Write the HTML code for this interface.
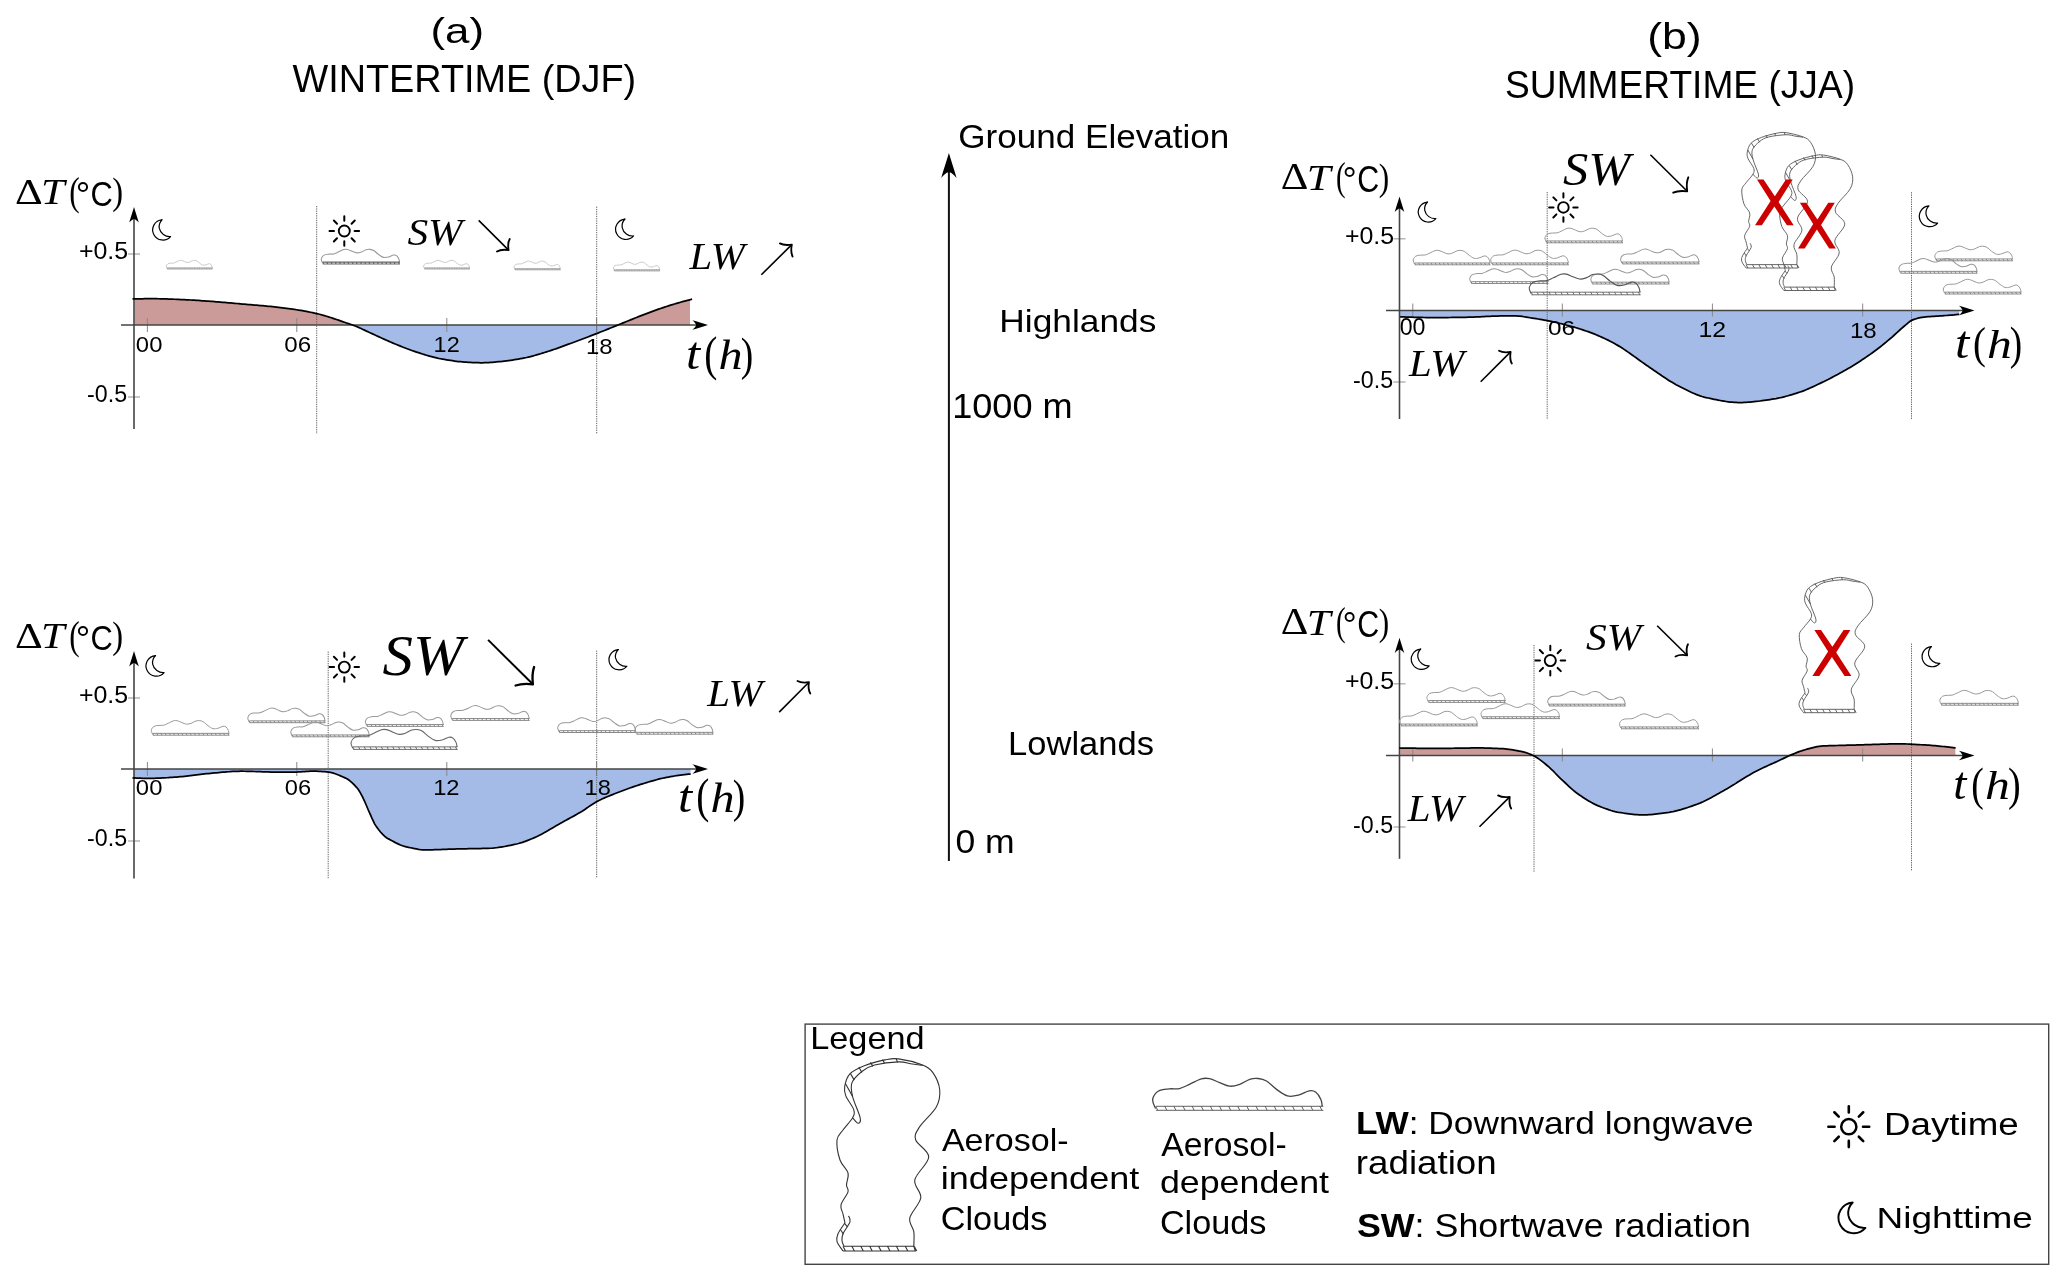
<!DOCTYPE html>
<html><head><meta charset="utf-8"><style>
html,body{margin:0;padding:0;background:#fff;width:2067px;height:1283px;overflow:hidden;}
svg{display:block;will-change:transform;}
</style></head><body>
<svg width="2067" height="1283" viewBox="0 0 2067 1283">
<defs>
<path id="fcO" d="M-0.30,-1.00 C-0.58,-1.92 -2.30,-4.75 -2.00,-6.50 C-1.70,-8.25 -0.17,-10.45 1.50,-11.50 C3.17,-12.55 5.92,-12.55 8.00,-12.80 C10.08,-13.05 12.00,-12.55 14.00,-13.00 C16.00,-13.45 17.83,-14.53 20.00,-15.50 C22.17,-16.47 25.00,-18.23 27.00,-18.80 C29.00,-19.37 30.17,-19.28 32.00,-18.90 C33.83,-18.52 36.00,-17.25 38.00,-16.50 C40.00,-15.75 42.00,-14.57 44.00,-14.40 C46.00,-14.23 48.00,-14.82 50.00,-15.50 C52.00,-16.18 54.17,-17.92 56.00,-18.50 C57.83,-19.08 59.33,-19.17 61.00,-19.00 C62.67,-18.83 64.17,-18.58 66.00,-17.50 C67.83,-16.42 69.92,-13.98 72.00,-12.50 C74.08,-11.02 76.33,-9.18 78.50,-8.60 C80.67,-8.02 82.83,-8.50 85.00,-9.00 C87.17,-9.50 89.75,-11.30 91.50,-11.60 C93.25,-11.90 94.33,-11.65 95.50,-10.80 C96.67,-9.95 97.87,-7.90 98.50,-6.50 C99.13,-5.10 99.17,-3.08 99.30,-2.40" fill="none"/>
<path id="fcB" d="M0,-2.4 H100 M0,0 H100 M1.00,0 L-0.20,-2.4 M6.45,0 L5.25,-2.4 M11.90,0 L10.70,-2.4 M17.35,0 L16.15,-2.4 M22.80,0 L21.60,-2.4 M28.25,0 L27.05,-2.4 M33.70,0 L32.50,-2.4 M39.15,0 L37.95,-2.4 M44.60,0 L43.40,-2.4 M50.05,0 L48.85,-2.4 M55.50,0 L54.30,-2.4 M60.95,0 L59.75,-2.4 M66.40,0 L65.20,-2.4 M71.85,0 L70.65,-2.4 M77.30,0 L76.10,-2.4 M82.75,0 L81.55,-2.4 M88.20,0 L87.00,-2.4 M93.65,0 L92.45,-2.4 M99.10,0 L97.90,-2.4 " fill="none"/>
<g id="tc"><path d="M8.00,164.80 C7.67,163.33 6.67,159.00 6.00,156.00 C5.33,153.00 3.17,150.50 4.00,146.80 C4.83,143.10 10.08,137.12 11.00,133.80 C11.92,130.48 9.50,130.05 9.50,126.90 C9.50,123.75 12.08,119.05 11.00,114.90 C9.92,110.75 4.83,107.48 3.00,102.00 C1.17,96.52 -0.50,87.00 0.00,82.00 C0.50,77.00 3.40,75.70 6.00,72.00 C8.60,68.30 13.82,63.20 15.60,59.80 C17.38,56.40 17.83,55.25 16.70,51.60 C15.57,47.95 10.30,41.78 8.80,37.90 C7.30,34.02 7.02,31.97 7.70,28.30 C8.38,24.63 9.63,19.33 12.90,15.90 C16.17,12.47 21.47,10.03 27.30,7.70 C33.13,5.37 42.18,3.03 47.90,1.90 C53.62,0.77 55.32,0.05 61.60,0.90 C67.88,1.75 79.88,4.72 85.60,7.00 C91.32,9.28 93.05,10.48 95.90,14.60 C98.75,18.72 102.13,25.98 102.70,31.70 C103.27,37.42 102.72,42.62 99.30,48.90 C95.88,55.18 85.63,63.88 82.20,69.40 C78.77,74.92 77.12,77.08 78.70,82.00 C80.28,86.92 91.85,92.25 91.70,98.90 C91.55,105.55 79.12,115.08 77.80,121.90 C76.48,128.72 84.63,133.48 83.80,139.80 C82.97,146.12 73.97,154.15 72.80,159.80 C71.63,165.45 76.13,168.97 76.80,173.70 C77.47,178.43 76.80,185.78 76.80,188.20" fill="none"/><path d="M15.60,59.80 C16.52,60.72 19.83,65.30 21.10,65.30 C22.37,65.30 24.12,64.25 23.20,59.80 C22.28,55.35 16.98,44.42 15.60,38.60 C14.22,32.78 13.30,29.13 14.90,24.90 C16.50,20.67 21.42,16.18 25.20,13.20 C28.98,10.22 31.53,8.55 37.60,7.00 C43.67,5.45 55.32,4.07 61.60,3.90 C67.88,3.73 71.30,5.42 75.30,6.00 C79.30,6.58 83.88,7.17 85.60,7.40" fill="none"/><path d="M8.00,164.80 C6.83,166.62 2.33,172.55 1.00,175.70 C-0.33,178.85 -0.83,180.82 0.00,183.70 C0.83,186.58 5.00,191.45 6.00,193.00" fill="none"/><path d="M11.50,157.80 C11.75,158.80 13.92,160.82 13.00,163.80 C12.08,166.78 7.33,172.55 6.00,175.70 C4.67,178.85 4.83,180.62 5.00,182.70 C5.17,184.78 6.67,187.28 7.00,188.20" fill="none"/><path d="M13.6,15.9 L17.3,22.1 M21.8,9.1 L24.9,14.6 M33.5,4.3 L35.9,8.4 M45.5,1.5 L47.5,5.3 M59.2,0.9 L60.6,4.3 M8.4,25.5 L15.6,38.6 M3.5,171.7 L6.5,176.2 M7.5,165.3 L10.5,168.8 M7,188.2 H76.8 M6,193 H78.3 L76.8,188.2 M6.0,188.2 L8.5,193 M14.9,188.2 L17.4,193 M23.8,188.2 L26.3,193 M32.7,188.2 L35.2,193 M41.6,188.2 L44.1,193 M50.5,188.2 L53.0,193 M59.4,188.2 L61.9,193 M68.3,188.2 L70.8,193 M77.2,188.2 L79.7,193 " fill="none"/></g>
<path id="sunR" d="M14.20,0.00 L20.40,0.00 M10.04,10.04 L14.42,14.42 M0.00,14.20 L0.00,20.40 M-10.04,10.04 L-14.42,14.42 M-14.20,0.00 L-20.40,0.00 M-10.04,-10.04 L-14.42,-14.42 M-0.00,-14.20 L-0.00,-20.40 M10.04,-10.04 L14.42,-14.42 " fill="none" stroke-linecap="round"/>
<path id="moon" d="M15.6,0.3 A15.3,15.3 0 1 0 28.3,25.6 C20.5,26.3 13,21 11.3,13 C10.5,8 12.5,3.5 15.6,0.3 Z" fill="none" stroke-linejoin="round"/>
<path id="ah" d="M0,0 C-5,-1.5 -11,-3.5 -15.6,-4.8 C-13,-2.5 -12,-1 -11.9,0 C-12,1 -13,2.5 -15.6,4.8 C-11,3.5 -5,1.5 0,0 Z" fill="#000"/>
<path id="redx" d="M2,0 L8.6,0 L20,16.9 L31.2,0 L38,0 L23.8,22.5 L39,46.1 L32.2,46.1 L19.5,27.1 L6.9,46.1 L0,46.1 L15.7,21.5 Z" fill="#cc0000"/>
<clipPath id="clip1"><rect x="134.5" y="0" width="219.5" height="1283"/></clipPath>
<clipPath id="clip2"><rect x="354.0" y="0" width="264.0" height="1283"/></clipPath>
<clipPath id="clip3"><rect x="618.0" y="0" width="72.1" height="1283"/></clipPath>
<clipPath id="clip4"><rect x="134.0" y="0" width="558.0" height="1283"/></clipPath>
<clipPath id="clip5"><rect x="1400.0" y="0" width="562.0" height="1283"/></clipPath>
<clipPath id="clip6"><rect x="1400.3" y="0" width="132.9" height="1283"/></clipPath>
<clipPath id="clip7"><rect x="1533.2" y="0" width="256.5" height="1283"/></clipPath>
<clipPath id="clip8"><rect x="1789.7" y="0" width="165.9" height="1283"/></clipPath>
</defs>
<rect width="2067" height="1283" fill="#fff"/>
<path d="M948.9,861 V172" stroke="#111" stroke-width="2"/>
<use href="#ah" transform="translate(948.9,153) rotate(-90) scale(1.6)"/>
<path d="M132.50,298.96 L134.50,298.91 L136.50,298.87 L138.50,298.83 L140.50,298.79 L142.50,298.76 L144.50,298.74 L146.50,298.72 L148.50,298.70 L150.50,298.70 L152.50,298.70 L154.50,298.71 L156.50,298.72 L158.50,298.75 L160.50,298.79 L162.50,298.84 L164.50,298.89 L166.50,298.95 L168.50,299.02 L170.50,299.09 L172.50,299.17 L174.50,299.25 L176.50,299.34 L178.50,299.43 L180.50,299.51 L182.50,299.60 L184.50,299.69 L186.50,299.79 L188.50,299.89 L190.50,300.00 L192.50,300.12 L194.50,300.24 L196.50,300.36 L198.50,300.49 L200.50,300.62 L202.50,300.76 L204.50,300.90 L206.50,301.04 L208.50,301.18 L210.50,301.33 L212.50,301.47 L214.50,301.63 L216.50,301.78 L218.50,301.95 L220.50,302.11 L222.50,302.28 L224.50,302.45 L226.50,302.62 L228.50,302.80 L230.50,302.97 L232.50,303.15 L234.50,303.33 L236.50,303.50 L238.50,303.68 L240.50,303.86 L242.50,304.03 L244.50,304.20 L246.50,304.37 L248.50,304.54 L250.50,304.71 L252.50,304.88 L254.50,305.05 L256.50,305.22 L258.50,305.39 L260.50,305.57 L262.50,305.74 L264.50,305.92 L266.50,306.11 L268.50,306.29 L270.50,306.48 L272.50,306.68 L274.50,306.88 L276.50,307.09 L278.50,307.31 L280.50,307.55 L282.50,307.80 L284.50,308.06 L286.50,308.32 L288.50,308.60 L290.50,308.88 L292.50,309.16 L294.50,309.45 L296.50,309.75 L298.50,310.06 L300.50,310.38 L302.50,310.72 L304.50,311.08 L306.50,311.45 L308.50,311.84 L310.50,312.24 L312.50,312.65 L314.50,313.08 L316.50,313.53 L318.50,314.00 L320.50,314.52 L322.50,315.07 L324.50,315.66 L326.50,316.27 L328.50,316.89 L330.50,317.52 L332.50,318.16 L334.50,318.81 L336.50,319.49 L338.50,320.18 L340.50,320.89 L342.50,321.59 L344.50,322.29 L346.50,322.96 L348.50,323.61 L350.50,324.26 L352.50,324.95 L354.50,325.71 L356.50,326.52 L358.50,327.39 L360.50,328.29 L362.50,329.21 L364.50,330.15 L366.50,331.09 L368.50,332.03 L370.50,332.95 L372.50,333.85 L374.50,334.76 L376.50,335.68 L378.50,336.60 L380.50,337.52 L382.50,338.44 L384.50,339.35 L386.50,340.25 L388.50,341.14 L390.50,342.02 L392.50,342.87 L394.50,343.70 L396.50,344.53 L398.50,345.34 L400.50,346.15 L402.50,346.95 L404.50,347.74 L406.50,348.51 L408.50,349.26 L410.50,350.00 L412.50,350.71 L414.50,351.40 L416.50,352.06 L418.50,352.70 L420.50,353.34 L422.50,353.98 L424.50,354.60 L426.50,355.22 L428.50,355.81 L430.50,356.39 L432.50,356.93 L434.50,357.44 L436.50,357.92 L438.50,358.36 L440.50,358.74 L442.50,359.10 L444.50,359.45 L446.50,359.80 L448.50,360.13 L450.50,360.45 L452.50,360.74 L454.50,361.02 L456.50,361.28 L458.50,361.51 L460.50,361.71 L462.50,361.88 L464.50,362.02 L466.50,362.15 L468.50,362.28 L470.50,362.40 L472.50,362.51 L474.50,362.60 L476.50,362.68 L478.50,362.73 L480.50,362.76 L482.50,362.76 L484.50,362.72 L486.50,362.65 L488.50,362.55 L490.50,362.41 L492.50,362.26 L494.50,362.09 L496.50,361.91 L498.50,361.73 L500.50,361.55 L502.50,361.35 L504.50,361.12 L506.50,360.88 L508.50,360.61 L510.50,360.33 L512.50,360.03 L514.50,359.71 L516.50,359.37 L518.50,359.03 L520.50,358.67 L522.50,358.30 L524.50,357.92 L526.50,357.51 L528.50,357.05 L530.50,356.57 L532.50,356.05 L534.50,355.50 L536.50,354.93 L538.50,354.34 L540.50,353.73 L542.50,353.11 L544.50,352.49 L546.50,351.86 L548.50,351.23 L550.50,350.59 L552.50,349.93 L554.50,349.25 L556.50,348.56 L558.50,347.85 L560.50,347.13 L562.50,346.40 L564.50,345.67 L566.50,344.93 L568.50,344.19 L570.50,343.45 L572.50,342.71 L574.50,341.98 L576.50,341.24 L578.50,340.49 L580.50,339.74 L582.50,338.99 L584.50,338.23 L586.50,337.47 L588.50,336.70 L590.50,335.93 L592.50,335.16 L594.50,334.39 L596.50,333.61 L598.50,332.83 L600.50,332.04 L602.50,331.24 L604.50,330.44 L606.50,329.64 L608.50,328.83 L610.50,328.03 L612.50,327.22 L614.50,326.41 L616.50,325.61 L618.50,324.80 L620.50,324.00 L622.50,323.18 L624.50,322.37 L626.50,321.55 L628.50,320.73 L630.50,319.91 L632.50,319.10 L634.50,318.29 L636.50,317.48 L638.50,316.68 L640.50,315.89 L642.50,315.12 L644.50,314.35 L646.50,313.60 L648.50,312.85 L650.50,312.10 L652.50,311.36 L654.50,310.63 L656.50,309.90 L658.50,309.19 L660.50,308.49 L662.50,307.80 L664.50,307.13 L666.50,306.47 L668.50,305.83 L670.50,305.21 L672.50,304.59 L674.50,303.99 L676.50,303.39 L678.50,302.80 L680.50,302.23 L682.50,301.67 L684.50,301.12 L686.50,300.59 L688.50,300.08 L690.50,299.58 L692.10,299.20 L692.1,325.0 L132.5,325.0 Z" fill="#cb9b9a" clip-path="url(#clip1)"/>
<path d="M132.50,298.96 L134.50,298.91 L136.50,298.87 L138.50,298.83 L140.50,298.79 L142.50,298.76 L144.50,298.74 L146.50,298.72 L148.50,298.70 L150.50,298.70 L152.50,298.70 L154.50,298.71 L156.50,298.72 L158.50,298.75 L160.50,298.79 L162.50,298.84 L164.50,298.89 L166.50,298.95 L168.50,299.02 L170.50,299.09 L172.50,299.17 L174.50,299.25 L176.50,299.34 L178.50,299.43 L180.50,299.51 L182.50,299.60 L184.50,299.69 L186.50,299.79 L188.50,299.89 L190.50,300.00 L192.50,300.12 L194.50,300.24 L196.50,300.36 L198.50,300.49 L200.50,300.62 L202.50,300.76 L204.50,300.90 L206.50,301.04 L208.50,301.18 L210.50,301.33 L212.50,301.47 L214.50,301.63 L216.50,301.78 L218.50,301.95 L220.50,302.11 L222.50,302.28 L224.50,302.45 L226.50,302.62 L228.50,302.80 L230.50,302.97 L232.50,303.15 L234.50,303.33 L236.50,303.50 L238.50,303.68 L240.50,303.86 L242.50,304.03 L244.50,304.20 L246.50,304.37 L248.50,304.54 L250.50,304.71 L252.50,304.88 L254.50,305.05 L256.50,305.22 L258.50,305.39 L260.50,305.57 L262.50,305.74 L264.50,305.92 L266.50,306.11 L268.50,306.29 L270.50,306.48 L272.50,306.68 L274.50,306.88 L276.50,307.09 L278.50,307.31 L280.50,307.55 L282.50,307.80 L284.50,308.06 L286.50,308.32 L288.50,308.60 L290.50,308.88 L292.50,309.16 L294.50,309.45 L296.50,309.75 L298.50,310.06 L300.50,310.38 L302.50,310.72 L304.50,311.08 L306.50,311.45 L308.50,311.84 L310.50,312.24 L312.50,312.65 L314.50,313.08 L316.50,313.53 L318.50,314.00 L320.50,314.52 L322.50,315.07 L324.50,315.66 L326.50,316.27 L328.50,316.89 L330.50,317.52 L332.50,318.16 L334.50,318.81 L336.50,319.49 L338.50,320.18 L340.50,320.89 L342.50,321.59 L344.50,322.29 L346.50,322.96 L348.50,323.61 L350.50,324.26 L352.50,324.95 L354.50,325.71 L356.50,326.52 L358.50,327.39 L360.50,328.29 L362.50,329.21 L364.50,330.15 L366.50,331.09 L368.50,332.03 L370.50,332.95 L372.50,333.85 L374.50,334.76 L376.50,335.68 L378.50,336.60 L380.50,337.52 L382.50,338.44 L384.50,339.35 L386.50,340.25 L388.50,341.14 L390.50,342.02 L392.50,342.87 L394.50,343.70 L396.50,344.53 L398.50,345.34 L400.50,346.15 L402.50,346.95 L404.50,347.74 L406.50,348.51 L408.50,349.26 L410.50,350.00 L412.50,350.71 L414.50,351.40 L416.50,352.06 L418.50,352.70 L420.50,353.34 L422.50,353.98 L424.50,354.60 L426.50,355.22 L428.50,355.81 L430.50,356.39 L432.50,356.93 L434.50,357.44 L436.50,357.92 L438.50,358.36 L440.50,358.74 L442.50,359.10 L444.50,359.45 L446.50,359.80 L448.50,360.13 L450.50,360.45 L452.50,360.74 L454.50,361.02 L456.50,361.28 L458.50,361.51 L460.50,361.71 L462.50,361.88 L464.50,362.02 L466.50,362.15 L468.50,362.28 L470.50,362.40 L472.50,362.51 L474.50,362.60 L476.50,362.68 L478.50,362.73 L480.50,362.76 L482.50,362.76 L484.50,362.72 L486.50,362.65 L488.50,362.55 L490.50,362.41 L492.50,362.26 L494.50,362.09 L496.50,361.91 L498.50,361.73 L500.50,361.55 L502.50,361.35 L504.50,361.12 L506.50,360.88 L508.50,360.61 L510.50,360.33 L512.50,360.03 L514.50,359.71 L516.50,359.37 L518.50,359.03 L520.50,358.67 L522.50,358.30 L524.50,357.92 L526.50,357.51 L528.50,357.05 L530.50,356.57 L532.50,356.05 L534.50,355.50 L536.50,354.93 L538.50,354.34 L540.50,353.73 L542.50,353.11 L544.50,352.49 L546.50,351.86 L548.50,351.23 L550.50,350.59 L552.50,349.93 L554.50,349.25 L556.50,348.56 L558.50,347.85 L560.50,347.13 L562.50,346.40 L564.50,345.67 L566.50,344.93 L568.50,344.19 L570.50,343.45 L572.50,342.71 L574.50,341.98 L576.50,341.24 L578.50,340.49 L580.50,339.74 L582.50,338.99 L584.50,338.23 L586.50,337.47 L588.50,336.70 L590.50,335.93 L592.50,335.16 L594.50,334.39 L596.50,333.61 L598.50,332.83 L600.50,332.04 L602.50,331.24 L604.50,330.44 L606.50,329.64 L608.50,328.83 L610.50,328.03 L612.50,327.22 L614.50,326.41 L616.50,325.61 L618.50,324.80 L620.50,324.00 L622.50,323.18 L624.50,322.37 L626.50,321.55 L628.50,320.73 L630.50,319.91 L632.50,319.10 L634.50,318.29 L636.50,317.48 L638.50,316.68 L640.50,315.89 L642.50,315.12 L644.50,314.35 L646.50,313.60 L648.50,312.85 L650.50,312.10 L652.50,311.36 L654.50,310.63 L656.50,309.90 L658.50,309.19 L660.50,308.49 L662.50,307.80 L664.50,307.13 L666.50,306.47 L668.50,305.83 L670.50,305.21 L672.50,304.59 L674.50,303.99 L676.50,303.39 L678.50,302.80 L680.50,302.23 L682.50,301.67 L684.50,301.12 L686.50,300.59 L688.50,300.08 L690.50,299.58 L692.10,299.20 L692.1,325.0 L132.5,325.0 Z" fill="#a4bbe7" clip-path="url(#clip2)"/>
<path d="M132.50,298.96 L134.50,298.91 L136.50,298.87 L138.50,298.83 L140.50,298.79 L142.50,298.76 L144.50,298.74 L146.50,298.72 L148.50,298.70 L150.50,298.70 L152.50,298.70 L154.50,298.71 L156.50,298.72 L158.50,298.75 L160.50,298.79 L162.50,298.84 L164.50,298.89 L166.50,298.95 L168.50,299.02 L170.50,299.09 L172.50,299.17 L174.50,299.25 L176.50,299.34 L178.50,299.43 L180.50,299.51 L182.50,299.60 L184.50,299.69 L186.50,299.79 L188.50,299.89 L190.50,300.00 L192.50,300.12 L194.50,300.24 L196.50,300.36 L198.50,300.49 L200.50,300.62 L202.50,300.76 L204.50,300.90 L206.50,301.04 L208.50,301.18 L210.50,301.33 L212.50,301.47 L214.50,301.63 L216.50,301.78 L218.50,301.95 L220.50,302.11 L222.50,302.28 L224.50,302.45 L226.50,302.62 L228.50,302.80 L230.50,302.97 L232.50,303.15 L234.50,303.33 L236.50,303.50 L238.50,303.68 L240.50,303.86 L242.50,304.03 L244.50,304.20 L246.50,304.37 L248.50,304.54 L250.50,304.71 L252.50,304.88 L254.50,305.05 L256.50,305.22 L258.50,305.39 L260.50,305.57 L262.50,305.74 L264.50,305.92 L266.50,306.11 L268.50,306.29 L270.50,306.48 L272.50,306.68 L274.50,306.88 L276.50,307.09 L278.50,307.31 L280.50,307.55 L282.50,307.80 L284.50,308.06 L286.50,308.32 L288.50,308.60 L290.50,308.88 L292.50,309.16 L294.50,309.45 L296.50,309.75 L298.50,310.06 L300.50,310.38 L302.50,310.72 L304.50,311.08 L306.50,311.45 L308.50,311.84 L310.50,312.24 L312.50,312.65 L314.50,313.08 L316.50,313.53 L318.50,314.00 L320.50,314.52 L322.50,315.07 L324.50,315.66 L326.50,316.27 L328.50,316.89 L330.50,317.52 L332.50,318.16 L334.50,318.81 L336.50,319.49 L338.50,320.18 L340.50,320.89 L342.50,321.59 L344.50,322.29 L346.50,322.96 L348.50,323.61 L350.50,324.26 L352.50,324.95 L354.50,325.71 L356.50,326.52 L358.50,327.39 L360.50,328.29 L362.50,329.21 L364.50,330.15 L366.50,331.09 L368.50,332.03 L370.50,332.95 L372.50,333.85 L374.50,334.76 L376.50,335.68 L378.50,336.60 L380.50,337.52 L382.50,338.44 L384.50,339.35 L386.50,340.25 L388.50,341.14 L390.50,342.02 L392.50,342.87 L394.50,343.70 L396.50,344.53 L398.50,345.34 L400.50,346.15 L402.50,346.95 L404.50,347.74 L406.50,348.51 L408.50,349.26 L410.50,350.00 L412.50,350.71 L414.50,351.40 L416.50,352.06 L418.50,352.70 L420.50,353.34 L422.50,353.98 L424.50,354.60 L426.50,355.22 L428.50,355.81 L430.50,356.39 L432.50,356.93 L434.50,357.44 L436.50,357.92 L438.50,358.36 L440.50,358.74 L442.50,359.10 L444.50,359.45 L446.50,359.80 L448.50,360.13 L450.50,360.45 L452.50,360.74 L454.50,361.02 L456.50,361.28 L458.50,361.51 L460.50,361.71 L462.50,361.88 L464.50,362.02 L466.50,362.15 L468.50,362.28 L470.50,362.40 L472.50,362.51 L474.50,362.60 L476.50,362.68 L478.50,362.73 L480.50,362.76 L482.50,362.76 L484.50,362.72 L486.50,362.65 L488.50,362.55 L490.50,362.41 L492.50,362.26 L494.50,362.09 L496.50,361.91 L498.50,361.73 L500.50,361.55 L502.50,361.35 L504.50,361.12 L506.50,360.88 L508.50,360.61 L510.50,360.33 L512.50,360.03 L514.50,359.71 L516.50,359.37 L518.50,359.03 L520.50,358.67 L522.50,358.30 L524.50,357.92 L526.50,357.51 L528.50,357.05 L530.50,356.57 L532.50,356.05 L534.50,355.50 L536.50,354.93 L538.50,354.34 L540.50,353.73 L542.50,353.11 L544.50,352.49 L546.50,351.86 L548.50,351.23 L550.50,350.59 L552.50,349.93 L554.50,349.25 L556.50,348.56 L558.50,347.85 L560.50,347.13 L562.50,346.40 L564.50,345.67 L566.50,344.93 L568.50,344.19 L570.50,343.45 L572.50,342.71 L574.50,341.98 L576.50,341.24 L578.50,340.49 L580.50,339.74 L582.50,338.99 L584.50,338.23 L586.50,337.47 L588.50,336.70 L590.50,335.93 L592.50,335.16 L594.50,334.39 L596.50,333.61 L598.50,332.83 L600.50,332.04 L602.50,331.24 L604.50,330.44 L606.50,329.64 L608.50,328.83 L610.50,328.03 L612.50,327.22 L614.50,326.41 L616.50,325.61 L618.50,324.80 L620.50,324.00 L622.50,323.18 L624.50,322.37 L626.50,321.55 L628.50,320.73 L630.50,319.91 L632.50,319.10 L634.50,318.29 L636.50,317.48 L638.50,316.68 L640.50,315.89 L642.50,315.12 L644.50,314.35 L646.50,313.60 L648.50,312.85 L650.50,312.10 L652.50,311.36 L654.50,310.63 L656.50,309.90 L658.50,309.19 L660.50,308.49 L662.50,307.80 L664.50,307.13 L666.50,306.47 L668.50,305.83 L670.50,305.21 L672.50,304.59 L674.50,303.99 L676.50,303.39 L678.50,302.80 L680.50,302.23 L682.50,301.67 L684.50,301.12 L686.50,300.59 L688.50,300.08 L690.50,299.58 L692.10,299.20 L692.1,325.0 L132.5,325.0 Z" fill="#cb9b9a" clip-path="url(#clip3)"/>
<path d="M128,254.0 H140" stroke="#aaa" stroke-width="1.3"/>
<path d="M128,397.0 H140" stroke="#aaa" stroke-width="1.3"/>
<path d="M147.4,318.0 V332.0" stroke="#888" stroke-width="1"/>
<path d="M296.8,318.0 V332.0" stroke="#888" stroke-width="1"/>
<path d="M446.8,318.0 V332.0" stroke="#888" stroke-width="1"/>
<path d="M596.6,318.0 V332.0" stroke="#888" stroke-width="1"/>
<path d="M121.0,325.00 H700.0" stroke="#444" stroke-width="1.60"/>
<use href="#ah" transform="translate(708.0,325.00)"/>
<path d="M134.00,429.0 V215.0" stroke="#444" stroke-width="1.60"/>
<use href="#ah" transform="translate(134.00,207.0) rotate(-90)"/>
<path d="M316.7,206.0 V434.0" stroke="#666" stroke-width="1.0" stroke-dasharray="1.3,1.0"/>
<path d="M596.7,206.6 V434.0" stroke="#666" stroke-width="1.0" stroke-dasharray="1.3,1.0"/>
<path d="M132.50,298.96 L134.50,298.91 L136.50,298.87 L138.50,298.83 L140.50,298.79 L142.50,298.76 L144.50,298.74 L146.50,298.72 L148.50,298.70 L150.50,298.70 L152.50,298.70 L154.50,298.71 L156.50,298.72 L158.50,298.75 L160.50,298.79 L162.50,298.84 L164.50,298.89 L166.50,298.95 L168.50,299.02 L170.50,299.09 L172.50,299.17 L174.50,299.25 L176.50,299.34 L178.50,299.43 L180.50,299.51 L182.50,299.60 L184.50,299.69 L186.50,299.79 L188.50,299.89 L190.50,300.00 L192.50,300.12 L194.50,300.24 L196.50,300.36 L198.50,300.49 L200.50,300.62 L202.50,300.76 L204.50,300.90 L206.50,301.04 L208.50,301.18 L210.50,301.33 L212.50,301.47 L214.50,301.63 L216.50,301.78 L218.50,301.95 L220.50,302.11 L222.50,302.28 L224.50,302.45 L226.50,302.62 L228.50,302.80 L230.50,302.97 L232.50,303.15 L234.50,303.33 L236.50,303.50 L238.50,303.68 L240.50,303.86 L242.50,304.03 L244.50,304.20 L246.50,304.37 L248.50,304.54 L250.50,304.71 L252.50,304.88 L254.50,305.05 L256.50,305.22 L258.50,305.39 L260.50,305.57 L262.50,305.74 L264.50,305.92 L266.50,306.11 L268.50,306.29 L270.50,306.48 L272.50,306.68 L274.50,306.88 L276.50,307.09 L278.50,307.31 L280.50,307.55 L282.50,307.80 L284.50,308.06 L286.50,308.32 L288.50,308.60 L290.50,308.88 L292.50,309.16 L294.50,309.45 L296.50,309.75 L298.50,310.06 L300.50,310.38 L302.50,310.72 L304.50,311.08 L306.50,311.45 L308.50,311.84 L310.50,312.24 L312.50,312.65 L314.50,313.08 L316.50,313.53 L318.50,314.00 L320.50,314.52 L322.50,315.07 L324.50,315.66 L326.50,316.27 L328.50,316.89 L330.50,317.52 L332.50,318.16 L334.50,318.81 L336.50,319.49 L338.50,320.18 L340.50,320.89 L342.50,321.59 L344.50,322.29 L346.50,322.96 L348.50,323.61 L350.50,324.26 L352.50,324.95 L354.50,325.71 L356.50,326.52 L358.50,327.39 L360.50,328.29 L362.50,329.21 L364.50,330.15 L366.50,331.09 L368.50,332.03 L370.50,332.95 L372.50,333.85 L374.50,334.76 L376.50,335.68 L378.50,336.60 L380.50,337.52 L382.50,338.44 L384.50,339.35 L386.50,340.25 L388.50,341.14 L390.50,342.02 L392.50,342.87 L394.50,343.70 L396.50,344.53 L398.50,345.34 L400.50,346.15 L402.50,346.95 L404.50,347.74 L406.50,348.51 L408.50,349.26 L410.50,350.00 L412.50,350.71 L414.50,351.40 L416.50,352.06 L418.50,352.70 L420.50,353.34 L422.50,353.98 L424.50,354.60 L426.50,355.22 L428.50,355.81 L430.50,356.39 L432.50,356.93 L434.50,357.44 L436.50,357.92 L438.50,358.36 L440.50,358.74 L442.50,359.10 L444.50,359.45 L446.50,359.80 L448.50,360.13 L450.50,360.45 L452.50,360.74 L454.50,361.02 L456.50,361.28 L458.50,361.51 L460.50,361.71 L462.50,361.88 L464.50,362.02 L466.50,362.15 L468.50,362.28 L470.50,362.40 L472.50,362.51 L474.50,362.60 L476.50,362.68 L478.50,362.73 L480.50,362.76 L482.50,362.76 L484.50,362.72 L486.50,362.65 L488.50,362.55 L490.50,362.41 L492.50,362.26 L494.50,362.09 L496.50,361.91 L498.50,361.73 L500.50,361.55 L502.50,361.35 L504.50,361.12 L506.50,360.88 L508.50,360.61 L510.50,360.33 L512.50,360.03 L514.50,359.71 L516.50,359.37 L518.50,359.03 L520.50,358.67 L522.50,358.30 L524.50,357.92 L526.50,357.51 L528.50,357.05 L530.50,356.57 L532.50,356.05 L534.50,355.50 L536.50,354.93 L538.50,354.34 L540.50,353.73 L542.50,353.11 L544.50,352.49 L546.50,351.86 L548.50,351.23 L550.50,350.59 L552.50,349.93 L554.50,349.25 L556.50,348.56 L558.50,347.85 L560.50,347.13 L562.50,346.40 L564.50,345.67 L566.50,344.93 L568.50,344.19 L570.50,343.45 L572.50,342.71 L574.50,341.98 L576.50,341.24 L578.50,340.49 L580.50,339.74 L582.50,338.99 L584.50,338.23 L586.50,337.47 L588.50,336.70 L590.50,335.93 L592.50,335.16 L594.50,334.39 L596.50,333.61 L598.50,332.83 L600.50,332.04 L602.50,331.24 L604.50,330.44 L606.50,329.64 L608.50,328.83 L610.50,328.03 L612.50,327.22 L614.50,326.41 L616.50,325.61 L618.50,324.80 L620.50,324.00 L622.50,323.18 L624.50,322.37 L626.50,321.55 L628.50,320.73 L630.50,319.91 L632.50,319.10 L634.50,318.29 L636.50,317.48 L638.50,316.68 L640.50,315.89 L642.50,315.12 L644.50,314.35 L646.50,313.60 L648.50,312.85 L650.50,312.10 L652.50,311.36 L654.50,310.63 L656.50,309.90 L658.50,309.19 L660.50,308.49 L662.50,307.80 L664.50,307.13 L666.50,306.47 L668.50,305.83 L670.50,305.21 L672.50,304.59 L674.50,303.99 L676.50,303.39 L678.50,302.80 L680.50,302.23 L682.50,301.67 L684.50,301.12 L686.50,300.59 L688.50,300.08 L690.50,299.58 L692.10,299.20" fill="none" stroke="#000" stroke-width="1.75"/>
<use href="#moon" transform="translate(151.73,219.53) scale(0.6647)" stroke="#000" stroke-width="1.805"/>
<circle cx="344.30" cy="231.00" r="5.51" fill="none" stroke="#000" stroke-width="1.90"/>
<use href="#sunR" transform="translate(344.30,231.00) scale(0.7256)" stroke="#000" stroke-width="2.756"/>
<path d="M478.7,220.4 L508.6,250.1" stroke="#000" stroke-width="1.60" fill="none"/>
<path d="M509.7,239.0 Q507.4,242.8 508.6,250.1 M497.0,251.5 Q501.0,249.0 508.6,250.1" stroke="#000" stroke-width="1.84" fill="none" stroke-linecap="round"/>
<use href="#moon" transform="translate(614.63,218.83) scale(0.6693)" stroke="#000" stroke-width="1.793"/>
<path d="M761.3,274.8 L791.8,244.6" stroke="#000" stroke-width="1.60" fill="none"/>
<path d="M779.9,243.4 Q784.1,245.8 791.8,244.6 M792.6,256.5 Q790.4,252.3 791.8,244.6" stroke="#000" stroke-width="1.84" fill="none" stroke-linecap="round"/>
<g transform="translate(167.19,269.00) scale(0.4531)"><use href="#fcO" stroke="#c4c4c4" stroke-width="1.986"/><use href="#fcB" stroke="#999" stroke-width="1.986"/></g>
<g transform="translate(322.85,264.00) scale(0.7715)"><use href="#fcO" stroke="#999" stroke-width="1.426"/><use href="#fcB" stroke="#666" stroke-width="1.426"/></g>
<g transform="translate(424.49,269.00) scale(0.4531)"><use href="#fcO" stroke="#c4c4c4" stroke-width="1.986"/><use href="#fcB" stroke="#999" stroke-width="1.986"/></g>
<g transform="translate(514.89,269.80) scale(0.4561)"><use href="#fcO" stroke="#c4c4c4" stroke-width="1.973"/><use href="#fcB" stroke="#999" stroke-width="1.973"/></g>
<g transform="translate(614.30,270.90) scale(0.4570)"><use href="#fcO" stroke="#c4c4c4" stroke-width="1.969"/><use href="#fcB" stroke="#999" stroke-width="1.969"/></g>
<path d="M132.50,777.88 L134.50,777.98 L136.50,778.07 L138.50,778.15 L140.50,778.23 L142.50,778.29 L144.50,778.34 L146.50,778.37 L148.50,778.39 L150.50,778.38 L152.50,778.35 L154.50,778.30 L156.50,778.24 L158.50,778.17 L160.50,778.08 L162.50,777.98 L164.50,777.87 L166.50,777.75 L168.50,777.62 L170.50,777.48 L172.50,777.34 L174.50,777.19 L176.50,777.04 L178.50,776.89 L180.50,776.72 L182.50,776.53 L184.50,776.32 L186.50,776.10 L188.50,775.87 L190.50,775.63 L192.50,775.38 L194.50,775.13 L196.50,774.88 L198.50,774.63 L200.50,774.39 L202.50,774.15 L204.50,773.92 L206.50,773.71 L208.50,773.51 L210.50,773.33 L212.50,773.15 L214.50,772.97 L216.50,772.78 L218.50,772.60 L220.50,772.41 L222.50,772.23 L224.50,772.06 L226.50,771.90 L228.50,771.75 L230.50,771.61 L232.50,771.49 L234.50,771.39 L236.50,771.31 L238.50,771.26 L240.50,771.23 L242.50,771.23 L244.50,771.25 L246.50,771.28 L248.50,771.33 L250.50,771.38 L252.50,771.44 L254.50,771.50 L256.50,771.57 L258.50,771.64 L260.50,771.72 L262.50,771.79 L264.50,771.85 L266.50,771.91 L268.50,771.97 L270.50,772.02 L272.50,772.05 L274.50,772.08 L276.50,772.10 L278.50,772.11 L280.50,772.13 L282.50,772.13 L284.50,772.14 L286.50,772.14 L288.50,772.13 L290.50,772.12 L292.50,772.10 L294.50,772.08 L296.50,772.04 L298.50,771.96 L300.50,771.86 L302.50,771.73 L304.50,771.60 L306.50,771.46 L308.50,771.34 L310.50,771.24 L312.50,771.17 L314.50,771.16 L316.50,771.21 L318.50,771.31 L320.50,771.43 L322.50,771.58 L324.50,771.73 L326.50,771.88 L328.50,772.07 L330.50,772.41 L332.50,772.89 L334.50,773.50 L336.50,774.22 L338.50,775.01 L340.50,775.85 L342.50,776.72 L344.50,777.59 L346.50,778.51 L348.50,779.75 L350.50,781.31 L352.50,783.13 L354.50,785.15 L356.50,787.30 L358.50,789.78 L360.50,793.09 L362.50,796.90 L364.50,801.03 L366.50,805.77 L368.50,810.48 L370.50,814.96 L372.50,819.49 L374.50,823.61 L376.50,826.88 L378.50,829.55 L380.50,832.00 L382.50,834.20 L384.50,836.10 L386.50,837.67 L388.50,838.88 L390.50,839.98 L392.50,841.07 L394.50,842.14 L396.50,843.16 L398.50,844.11 L400.50,844.99 L402.50,845.77 L404.50,846.43 L406.50,846.95 L408.50,847.36 L410.50,847.76 L412.50,848.18 L414.50,848.59 L416.50,848.97 L418.50,849.32 L420.50,849.61 L422.50,849.82 L424.50,849.95 L426.50,849.98 L428.50,849.93 L430.50,849.87 L432.50,849.81 L434.50,849.74 L436.50,849.67 L438.50,849.59 L440.50,849.52 L442.50,849.44 L444.50,849.36 L446.50,849.29 L448.50,849.22 L450.50,849.15 L452.50,849.08 L454.50,849.03 L456.50,848.98 L458.50,848.93 L460.50,848.89 L462.50,848.85 L464.50,848.81 L466.50,848.77 L468.50,848.74 L470.50,848.70 L472.50,848.67 L474.50,848.63 L476.50,848.60 L478.50,848.56 L480.50,848.52 L482.50,848.47 L484.50,848.42 L486.50,848.37 L488.50,848.31 L490.50,848.25 L492.50,848.14 L494.50,847.97 L496.50,847.75 L498.50,847.49 L500.50,847.19 L502.50,846.85 L504.50,846.49 L506.50,846.10 L508.50,845.70 L510.50,845.28 L512.50,844.86 L514.50,844.44 L516.50,844.01 L518.50,843.52 L520.50,842.95 L522.50,842.32 L524.50,841.63 L526.50,840.90 L528.50,840.12 L530.50,839.30 L532.50,838.45 L534.50,837.58 L536.50,836.69 L538.50,835.74 L540.50,834.73 L542.50,833.68 L544.50,832.58 L546.50,831.44 L548.50,830.29 L550.50,829.11 L552.50,827.93 L554.50,826.74 L556.50,825.57 L558.50,824.41 L560.50,823.27 L562.50,822.16 L564.50,821.06 L566.50,819.98 L568.50,818.89 L570.50,817.81 L572.50,816.71 L574.50,815.61 L576.50,814.49 L578.50,813.35 L580.50,812.19 L582.50,810.98 L584.50,809.67 L586.50,808.30 L588.50,806.90 L590.50,805.51 L592.50,804.16 L594.50,802.90 L596.50,801.77 L598.50,800.74 L600.50,799.76 L602.50,798.82 L604.50,797.91 L606.50,797.04 L608.50,796.20 L610.50,795.38 L612.50,794.58 L614.50,793.80 L616.50,793.03 L618.50,792.26 L620.50,791.50 L622.50,790.75 L624.50,790.00 L626.50,789.26 L628.50,788.52 L630.50,787.80 L632.50,787.09 L634.50,786.40 L636.50,785.73 L638.50,785.07 L640.50,784.44 L642.50,783.83 L644.50,783.23 L646.50,782.62 L648.50,782.03 L650.50,781.43 L652.50,780.85 L654.50,780.29 L656.50,779.74 L658.50,779.21 L660.50,778.71 L662.50,778.24 L664.50,777.81 L666.50,777.41 L668.50,777.04 L670.50,776.69 L672.50,776.35 L674.50,776.01 L676.50,775.69 L678.50,775.38 L680.50,775.10 L682.50,774.84 L684.50,774.61 L686.50,774.41 L688.50,774.24 L690.50,774.11 L690.60,774.11 L690.6,769.0 L132.5,769.0 Z" fill="#a4bbe7" clip-path="url(#clip4)"/>
<path d="M128,698.0 H140" stroke="#aaa" stroke-width="1.3"/>
<path d="M128,841.0 H140" stroke="#aaa" stroke-width="1.3"/>
<path d="M147.4,762.0 V776.0" stroke="#888" stroke-width="1"/>
<path d="M296.8,762.0 V776.0" stroke="#888" stroke-width="1"/>
<path d="M446.8,762.0 V776.0" stroke="#888" stroke-width="1"/>
<path d="M596.6,762.0 V776.0" stroke="#888" stroke-width="1"/>
<path d="M121.0,769.00 H700.0" stroke="#444" stroke-width="1.60"/>
<use href="#ah" transform="translate(708.0,769.00)"/>
<path d="M134.00,878.5 V659.0" stroke="#444" stroke-width="1.60"/>
<use href="#ah" transform="translate(134.00,651.0) rotate(-90)"/>
<path d="M328.2,651.5 V878.5" stroke="#666" stroke-width="1.0" stroke-dasharray="1.3,1.0"/>
<path d="M596.7,650.6 V878.3" stroke="#666" stroke-width="1.0" stroke-dasharray="1.3,1.0"/>
<path d="M132.50,777.88 L134.50,777.98 L136.50,778.07 L138.50,778.15 L140.50,778.23 L142.50,778.29 L144.50,778.34 L146.50,778.37 L148.50,778.39 L150.50,778.38 L152.50,778.35 L154.50,778.30 L156.50,778.24 L158.50,778.17 L160.50,778.08 L162.50,777.98 L164.50,777.87 L166.50,777.75 L168.50,777.62 L170.50,777.48 L172.50,777.34 L174.50,777.19 L176.50,777.04 L178.50,776.89 L180.50,776.72 L182.50,776.53 L184.50,776.32 L186.50,776.10 L188.50,775.87 L190.50,775.63 L192.50,775.38 L194.50,775.13 L196.50,774.88 L198.50,774.63 L200.50,774.39 L202.50,774.15 L204.50,773.92 L206.50,773.71 L208.50,773.51 L210.50,773.33 L212.50,773.15 L214.50,772.97 L216.50,772.78 L218.50,772.60 L220.50,772.41 L222.50,772.23 L224.50,772.06 L226.50,771.90 L228.50,771.75 L230.50,771.61 L232.50,771.49 L234.50,771.39 L236.50,771.31 L238.50,771.26 L240.50,771.23 L242.50,771.23 L244.50,771.25 L246.50,771.28 L248.50,771.33 L250.50,771.38 L252.50,771.44 L254.50,771.50 L256.50,771.57 L258.50,771.64 L260.50,771.72 L262.50,771.79 L264.50,771.85 L266.50,771.91 L268.50,771.97 L270.50,772.02 L272.50,772.05 L274.50,772.08 L276.50,772.10 L278.50,772.11 L280.50,772.13 L282.50,772.13 L284.50,772.14 L286.50,772.14 L288.50,772.13 L290.50,772.12 L292.50,772.10 L294.50,772.08 L296.50,772.04 L298.50,771.96 L300.50,771.86 L302.50,771.73 L304.50,771.60 L306.50,771.46 L308.50,771.34 L310.50,771.24 L312.50,771.17 L314.50,771.16 L316.50,771.21 L318.50,771.31 L320.50,771.43 L322.50,771.58 L324.50,771.73 L326.50,771.88 L328.50,772.07 L330.50,772.41 L332.50,772.89 L334.50,773.50 L336.50,774.22 L338.50,775.01 L340.50,775.85 L342.50,776.72 L344.50,777.59 L346.50,778.51 L348.50,779.75 L350.50,781.31 L352.50,783.13 L354.50,785.15 L356.50,787.30 L358.50,789.78 L360.50,793.09 L362.50,796.90 L364.50,801.03 L366.50,805.77 L368.50,810.48 L370.50,814.96 L372.50,819.49 L374.50,823.61 L376.50,826.88 L378.50,829.55 L380.50,832.00 L382.50,834.20 L384.50,836.10 L386.50,837.67 L388.50,838.88 L390.50,839.98 L392.50,841.07 L394.50,842.14 L396.50,843.16 L398.50,844.11 L400.50,844.99 L402.50,845.77 L404.50,846.43 L406.50,846.95 L408.50,847.36 L410.50,847.76 L412.50,848.18 L414.50,848.59 L416.50,848.97 L418.50,849.32 L420.50,849.61 L422.50,849.82 L424.50,849.95 L426.50,849.98 L428.50,849.93 L430.50,849.87 L432.50,849.81 L434.50,849.74 L436.50,849.67 L438.50,849.59 L440.50,849.52 L442.50,849.44 L444.50,849.36 L446.50,849.29 L448.50,849.22 L450.50,849.15 L452.50,849.08 L454.50,849.03 L456.50,848.98 L458.50,848.93 L460.50,848.89 L462.50,848.85 L464.50,848.81 L466.50,848.77 L468.50,848.74 L470.50,848.70 L472.50,848.67 L474.50,848.63 L476.50,848.60 L478.50,848.56 L480.50,848.52 L482.50,848.47 L484.50,848.42 L486.50,848.37 L488.50,848.31 L490.50,848.25 L492.50,848.14 L494.50,847.97 L496.50,847.75 L498.50,847.49 L500.50,847.19 L502.50,846.85 L504.50,846.49 L506.50,846.10 L508.50,845.70 L510.50,845.28 L512.50,844.86 L514.50,844.44 L516.50,844.01 L518.50,843.52 L520.50,842.95 L522.50,842.32 L524.50,841.63 L526.50,840.90 L528.50,840.12 L530.50,839.30 L532.50,838.45 L534.50,837.58 L536.50,836.69 L538.50,835.74 L540.50,834.73 L542.50,833.68 L544.50,832.58 L546.50,831.44 L548.50,830.29 L550.50,829.11 L552.50,827.93 L554.50,826.74 L556.50,825.57 L558.50,824.41 L560.50,823.27 L562.50,822.16 L564.50,821.06 L566.50,819.98 L568.50,818.89 L570.50,817.81 L572.50,816.71 L574.50,815.61 L576.50,814.49 L578.50,813.35 L580.50,812.19 L582.50,810.98 L584.50,809.67 L586.50,808.30 L588.50,806.90 L590.50,805.51 L592.50,804.16 L594.50,802.90 L596.50,801.77 L598.50,800.74 L600.50,799.76 L602.50,798.82 L604.50,797.91 L606.50,797.04 L608.50,796.20 L610.50,795.38 L612.50,794.58 L614.50,793.80 L616.50,793.03 L618.50,792.26 L620.50,791.50 L622.50,790.75 L624.50,790.00 L626.50,789.26 L628.50,788.52 L630.50,787.80 L632.50,787.09 L634.50,786.40 L636.50,785.73 L638.50,785.07 L640.50,784.44 L642.50,783.83 L644.50,783.23 L646.50,782.62 L648.50,782.03 L650.50,781.43 L652.50,780.85 L654.50,780.29 L656.50,779.74 L658.50,779.21 L660.50,778.71 L662.50,778.24 L664.50,777.81 L666.50,777.41 L668.50,777.04 L670.50,776.69 L672.50,776.35 L674.50,776.01 L676.50,775.69 L678.50,775.38 L680.50,775.10 L682.50,774.84 L684.50,774.61 L686.50,774.41 L688.50,774.24 L690.50,774.11 L690.60,774.11" fill="none" stroke="#000" stroke-width="1.75"/>
<use href="#moon" transform="translate(145.04,655.34) scale(0.6742)" stroke="#000" stroke-width="1.780"/>
<circle cx="344.30" cy="667.10" r="5.48" fill="none" stroke="#000" stroke-width="1.90"/>
<use href="#sunR" transform="translate(344.30,667.10) scale(0.7209)" stroke="#000" stroke-width="2.774"/>
<path d="M488.1,639.9 L532.9,684.3" stroke="#000" stroke-width="2.00" fill="none"/>
<path d="M534.1,667.0 Q531.7,673.9 532.9,684.3 M515.6,685.5 Q522.5,683.1 532.9,684.3" stroke="#000" stroke-width="2.30" fill="none" stroke-linecap="round"/>
<use href="#moon" transform="translate(608.03,649.33) scale(0.6633)" stroke="#000" stroke-width="1.809"/>
<path d="M779.2,712.1 L808.9,682.2" stroke="#000" stroke-width="1.60" fill="none"/>
<path d="M797.5,681.0 Q801.4,683.4 808.9,682.2 M810.3,693.5 Q807.8,689.6 808.9,682.2" stroke="#000" stroke-width="1.84" fill="none" stroke-linecap="round"/>
<g transform="translate(152.84,735.20) scale(0.7656)"><use href="#fcO" stroke="#999" stroke-width="1.306"/><use href="#fcB" stroke="#777" stroke-width="1.110"/></g>
<g transform="translate(249.33,722.70) scale(0.7617)"><use href="#fcO" stroke="#999" stroke-width="1.313"/><use href="#fcB" stroke="#777" stroke-width="1.116"/></g>
<g transform="translate(292.35,736.80) scale(0.7725)"><use href="#fcO" stroke="#999" stroke-width="1.295"/><use href="#fcB" stroke="#777" stroke-width="1.100"/></g>
<g transform="translate(366.94,726.40) scale(0.7676)"><use href="#fcO" stroke="#999" stroke-width="1.303"/><use href="#fcB" stroke="#777" stroke-width="1.107"/></g>
<g transform="translate(353.11,749.40) scale(1.0459)"><use href="#fcO" stroke="#666" stroke-width="1.052"/><use href="#fcB" stroke="#555" stroke-width="0.813"/></g>
<g transform="translate(452.35,720.40) scale(0.7725)"><use href="#fcO" stroke="#999" stroke-width="1.295"/><use href="#fcB" stroke="#777" stroke-width="1.100"/></g>
<g transform="translate(559.24,732.50) scale(0.7676)"><use href="#fcO" stroke="#999" stroke-width="1.303"/><use href="#fcB" stroke="#777" stroke-width="1.107"/></g>
<g transform="translate(636.64,734.20) scale(0.7676)"><use href="#fcO" stroke="#999" stroke-width="1.303"/><use href="#fcB" stroke="#777" stroke-width="1.107"/></g>
<path d="M1400.10,316.80 L1402.10,316.87 L1404.10,316.95 L1406.10,317.02 L1408.10,317.09 L1410.10,317.16 L1412.10,317.23 L1414.10,317.29 L1416.10,317.34 L1418.10,317.39 L1420.10,317.44 L1422.10,317.47 L1424.10,317.50 L1426.10,317.52 L1428.10,317.53 L1430.10,317.54 L1432.10,317.55 L1434.10,317.56 L1436.10,317.56 L1438.10,317.56 L1440.10,317.56 L1442.10,317.55 L1444.10,317.54 L1446.10,317.53 L1448.10,317.52 L1450.10,317.50 L1452.10,317.48 L1454.10,317.46 L1456.10,317.44 L1458.10,317.41 L1460.10,317.38 L1462.10,317.34 L1464.10,317.30 L1466.10,317.26 L1468.10,317.22 L1470.10,317.16 L1472.10,317.09 L1474.10,317.02 L1476.10,316.94 L1478.10,316.85 L1480.10,316.76 L1482.10,316.67 L1484.10,316.57 L1486.10,316.48 L1488.10,316.39 L1490.10,316.30 L1492.10,316.22 L1494.10,316.14 L1496.10,316.07 L1498.10,316.01 L1500.10,315.96 L1502.10,315.92 L1504.10,315.89 L1506.10,315.88 L1508.10,315.87 L1510.10,315.88 L1512.10,315.90 L1514.10,315.94 L1516.10,315.99 L1518.10,316.07 L1520.10,316.23 L1522.10,316.46 L1524.10,316.75 L1526.10,317.07 L1528.10,317.42 L1530.10,317.75 L1532.10,318.07 L1534.10,318.38 L1536.10,318.69 L1538.10,319.01 L1540.10,319.34 L1542.10,319.69 L1544.10,320.04 L1546.10,320.41 L1548.10,320.79 L1550.10,321.20 L1552.10,321.62 L1554.10,322.06 L1556.10,322.52 L1558.10,322.99 L1560.10,323.48 L1562.10,323.97 L1564.10,324.48 L1566.10,324.99 L1568.10,325.51 L1570.10,326.05 L1572.10,326.60 L1574.10,327.18 L1576.10,327.77 L1578.10,328.38 L1580.10,329.00 L1582.10,329.65 L1584.10,330.30 L1586.10,330.98 L1588.10,331.66 L1590.10,332.38 L1592.10,333.13 L1594.10,333.92 L1596.10,334.74 L1598.10,335.59 L1600.10,336.46 L1602.10,337.36 L1604.10,338.27 L1606.10,339.19 L1608.10,340.16 L1610.10,341.17 L1612.10,342.22 L1614.10,343.31 L1616.10,344.45 L1618.10,345.62 L1620.10,346.83 L1622.10,348.09 L1624.10,349.39 L1626.10,350.74 L1628.10,352.12 L1630.10,353.52 L1632.10,354.94 L1634.10,356.38 L1636.10,357.83 L1638.10,359.28 L1640.10,360.72 L1642.10,362.15 L1644.10,363.57 L1646.10,364.96 L1648.10,366.33 L1650.10,367.68 L1652.10,369.04 L1654.10,370.42 L1656.10,371.81 L1658.10,373.19 L1660.10,374.57 L1662.10,375.93 L1664.10,377.28 L1666.10,378.60 L1668.10,379.89 L1670.10,381.15 L1672.10,382.36 L1674.10,383.53 L1676.10,384.65 L1678.10,385.70 L1680.10,386.75 L1682.10,387.79 L1684.10,388.82 L1686.10,389.82 L1688.10,390.81 L1690.10,391.76 L1692.10,392.68 L1694.10,393.55 L1696.10,394.38 L1698.10,395.15 L1700.10,395.86 L1702.10,396.51 L1704.10,397.08 L1706.10,397.57 L1708.10,398.01 L1710.10,398.44 L1712.10,398.88 L1714.10,399.30 L1716.10,399.72 L1718.10,400.12 L1720.10,400.50 L1722.10,400.86 L1724.10,401.19 L1726.10,401.50 L1728.10,401.77 L1730.10,402.01 L1732.10,402.21 L1734.10,402.37 L1736.10,402.48 L1738.10,402.55 L1740.10,402.55 L1742.10,402.52 L1744.10,402.45 L1746.10,402.35 L1748.10,402.23 L1750.10,402.08 L1752.10,401.90 L1754.10,401.71 L1756.10,401.49 L1758.10,401.25 L1760.10,401.00 L1762.10,400.73 L1764.10,400.45 L1766.10,400.16 L1768.10,399.86 L1770.10,399.54 L1772.10,399.23 L1774.10,398.90 L1776.10,398.56 L1778.10,398.17 L1780.10,397.75 L1782.10,397.29 L1784.10,396.79 L1786.10,396.27 L1788.10,395.72 L1790.10,395.14 L1792.10,394.54 L1794.10,393.93 L1796.10,393.30 L1798.10,392.65 L1800.10,392.00 L1802.10,391.31 L1804.10,390.56 L1806.10,389.76 L1808.10,388.92 L1810.10,388.05 L1812.10,387.14 L1814.10,386.21 L1816.10,385.27 L1818.10,384.32 L1820.10,383.36 L1822.10,382.41 L1824.10,381.45 L1826.10,380.46 L1828.10,379.46 L1830.10,378.44 L1832.10,377.40 L1834.10,376.35 L1836.10,375.28 L1838.10,374.20 L1840.10,373.10 L1842.10,371.98 L1844.10,370.86 L1846.10,369.72 L1848.10,368.56 L1850.10,367.38 L1852.10,366.18 L1854.10,364.95 L1856.10,363.70 L1858.10,362.43 L1860.10,361.14 L1862.10,359.82 L1864.10,358.49 L1866.10,357.13 L1868.10,355.76 L1870.10,354.37 L1872.10,352.96 L1874.10,351.53 L1876.10,350.06 L1878.10,348.54 L1880.10,346.98 L1882.10,345.38 L1884.10,343.76 L1886.10,342.11 L1888.10,340.44 L1890.10,338.75 L1892.10,337.05 L1894.10,335.26 L1896.10,333.42 L1898.10,331.57 L1900.10,329.74 L1902.10,327.96 L1904.10,326.27 L1906.10,324.54 L1908.10,322.81 L1910.10,321.28 L1912.10,320.14 L1914.10,319.42 L1916.10,318.78 L1918.10,318.21 L1920.10,317.73 L1922.10,317.34 L1924.10,317.05 L1926.10,316.86 L1928.10,316.71 L1930.10,316.58 L1932.10,316.45 L1934.10,316.33 L1936.10,316.21 L1938.10,316.09 L1940.10,315.96 L1942.10,315.82 L1944.10,315.66 L1946.10,315.50 L1948.10,315.34 L1950.10,315.18 L1952.10,315.01 L1954.10,314.84 L1956.10,314.67 L1958.10,314.49 L1959.20,314.39 L1959.2,310.5 L1400.1,310.5 Z" fill="#a4bbe7" clip-path="url(#clip5)"/>
<path d="M1393.5,238.8 H1405.5" stroke="#aaa" stroke-width="1.3"/>
<path d="M1393.5,382.0 H1405.5" stroke="#aaa" stroke-width="1.3"/>
<path d="M1412.8,303.5 V316.5" stroke="#888" stroke-width="1"/>
<path d="M1562.3,303.5 V316.5" stroke="#888" stroke-width="1"/>
<path d="M1712.4,303.5 V316.5" stroke="#888" stroke-width="1"/>
<path d="M1862.7,303.5 V316.5" stroke="#888" stroke-width="1"/>
<path d="M1386.0,310.50 H1966.5" stroke="#444" stroke-width="1.60"/>
<use href="#ah" transform="translate(1974.5,310.50)"/>
<path d="M1399.50,419.0 V204.5" stroke="#444" stroke-width="1.60"/>
<use href="#ah" transform="translate(1399.50,196.5) rotate(-90)"/>
<path d="M1547.2,192.0 V419.0" stroke="#666" stroke-width="1.0" stroke-dasharray="1.3,1.0"/>
<path d="M1911.5,192.2 V420.0" stroke="#666" stroke-width="1.0" stroke-dasharray="1.3,1.0"/>
<path d="M1400.10,316.80 L1402.10,316.87 L1404.10,316.95 L1406.10,317.02 L1408.10,317.09 L1410.10,317.16 L1412.10,317.23 L1414.10,317.29 L1416.10,317.34 L1418.10,317.39 L1420.10,317.44 L1422.10,317.47 L1424.10,317.50 L1426.10,317.52 L1428.10,317.53 L1430.10,317.54 L1432.10,317.55 L1434.10,317.56 L1436.10,317.56 L1438.10,317.56 L1440.10,317.56 L1442.10,317.55 L1444.10,317.54 L1446.10,317.53 L1448.10,317.52 L1450.10,317.50 L1452.10,317.48 L1454.10,317.46 L1456.10,317.44 L1458.10,317.41 L1460.10,317.38 L1462.10,317.34 L1464.10,317.30 L1466.10,317.26 L1468.10,317.22 L1470.10,317.16 L1472.10,317.09 L1474.10,317.02 L1476.10,316.94 L1478.10,316.85 L1480.10,316.76 L1482.10,316.67 L1484.10,316.57 L1486.10,316.48 L1488.10,316.39 L1490.10,316.30 L1492.10,316.22 L1494.10,316.14 L1496.10,316.07 L1498.10,316.01 L1500.10,315.96 L1502.10,315.92 L1504.10,315.89 L1506.10,315.88 L1508.10,315.87 L1510.10,315.88 L1512.10,315.90 L1514.10,315.94 L1516.10,315.99 L1518.10,316.07 L1520.10,316.23 L1522.10,316.46 L1524.10,316.75 L1526.10,317.07 L1528.10,317.42 L1530.10,317.75 L1532.10,318.07 L1534.10,318.38 L1536.10,318.69 L1538.10,319.01 L1540.10,319.34 L1542.10,319.69 L1544.10,320.04 L1546.10,320.41 L1548.10,320.79 L1550.10,321.20 L1552.10,321.62 L1554.10,322.06 L1556.10,322.52 L1558.10,322.99 L1560.10,323.48 L1562.10,323.97 L1564.10,324.48 L1566.10,324.99 L1568.10,325.51 L1570.10,326.05 L1572.10,326.60 L1574.10,327.18 L1576.10,327.77 L1578.10,328.38 L1580.10,329.00 L1582.10,329.65 L1584.10,330.30 L1586.10,330.98 L1588.10,331.66 L1590.10,332.38 L1592.10,333.13 L1594.10,333.92 L1596.10,334.74 L1598.10,335.59 L1600.10,336.46 L1602.10,337.36 L1604.10,338.27 L1606.10,339.19 L1608.10,340.16 L1610.10,341.17 L1612.10,342.22 L1614.10,343.31 L1616.10,344.45 L1618.10,345.62 L1620.10,346.83 L1622.10,348.09 L1624.10,349.39 L1626.10,350.74 L1628.10,352.12 L1630.10,353.52 L1632.10,354.94 L1634.10,356.38 L1636.10,357.83 L1638.10,359.28 L1640.10,360.72 L1642.10,362.15 L1644.10,363.57 L1646.10,364.96 L1648.10,366.33 L1650.10,367.68 L1652.10,369.04 L1654.10,370.42 L1656.10,371.81 L1658.10,373.19 L1660.10,374.57 L1662.10,375.93 L1664.10,377.28 L1666.10,378.60 L1668.10,379.89 L1670.10,381.15 L1672.10,382.36 L1674.10,383.53 L1676.10,384.65 L1678.10,385.70 L1680.10,386.75 L1682.10,387.79 L1684.10,388.82 L1686.10,389.82 L1688.10,390.81 L1690.10,391.76 L1692.10,392.68 L1694.10,393.55 L1696.10,394.38 L1698.10,395.15 L1700.10,395.86 L1702.10,396.51 L1704.10,397.08 L1706.10,397.57 L1708.10,398.01 L1710.10,398.44 L1712.10,398.88 L1714.10,399.30 L1716.10,399.72 L1718.10,400.12 L1720.10,400.50 L1722.10,400.86 L1724.10,401.19 L1726.10,401.50 L1728.10,401.77 L1730.10,402.01 L1732.10,402.21 L1734.10,402.37 L1736.10,402.48 L1738.10,402.55 L1740.10,402.55 L1742.10,402.52 L1744.10,402.45 L1746.10,402.35 L1748.10,402.23 L1750.10,402.08 L1752.10,401.90 L1754.10,401.71 L1756.10,401.49 L1758.10,401.25 L1760.10,401.00 L1762.10,400.73 L1764.10,400.45 L1766.10,400.16 L1768.10,399.86 L1770.10,399.54 L1772.10,399.23 L1774.10,398.90 L1776.10,398.56 L1778.10,398.17 L1780.10,397.75 L1782.10,397.29 L1784.10,396.79 L1786.10,396.27 L1788.10,395.72 L1790.10,395.14 L1792.10,394.54 L1794.10,393.93 L1796.10,393.30 L1798.10,392.65 L1800.10,392.00 L1802.10,391.31 L1804.10,390.56 L1806.10,389.76 L1808.10,388.92 L1810.10,388.05 L1812.10,387.14 L1814.10,386.21 L1816.10,385.27 L1818.10,384.32 L1820.10,383.36 L1822.10,382.41 L1824.10,381.45 L1826.10,380.46 L1828.10,379.46 L1830.10,378.44 L1832.10,377.40 L1834.10,376.35 L1836.10,375.28 L1838.10,374.20 L1840.10,373.10 L1842.10,371.98 L1844.10,370.86 L1846.10,369.72 L1848.10,368.56 L1850.10,367.38 L1852.10,366.18 L1854.10,364.95 L1856.10,363.70 L1858.10,362.43 L1860.10,361.14 L1862.10,359.82 L1864.10,358.49 L1866.10,357.13 L1868.10,355.76 L1870.10,354.37 L1872.10,352.96 L1874.10,351.53 L1876.10,350.06 L1878.10,348.54 L1880.10,346.98 L1882.10,345.38 L1884.10,343.76 L1886.10,342.11 L1888.10,340.44 L1890.10,338.75 L1892.10,337.05 L1894.10,335.26 L1896.10,333.42 L1898.10,331.57 L1900.10,329.74 L1902.10,327.96 L1904.10,326.27 L1906.10,324.54 L1908.10,322.81 L1910.10,321.28 L1912.10,320.14 L1914.10,319.42 L1916.10,318.78 L1918.10,318.21 L1920.10,317.73 L1922.10,317.34 L1924.10,317.05 L1926.10,316.86 L1928.10,316.71 L1930.10,316.58 L1932.10,316.45 L1934.10,316.33 L1936.10,316.21 L1938.10,316.09 L1940.10,315.96 L1942.10,315.82 L1944.10,315.66 L1946.10,315.50 L1948.10,315.34 L1950.10,315.18 L1952.10,315.01 L1954.10,314.84 L1956.10,314.67 L1958.10,314.49 L1959.20,314.39" fill="none" stroke="#000" stroke-width="1.75"/>
<use href="#moon" transform="translate(1417.33,201.83) scale(0.6559)" stroke="#000" stroke-width="1.830"/>
<circle cx="1563.40" cy="207.40" r="5.30" fill="none" stroke="#000" stroke-width="1.90"/>
<use href="#sunR" transform="translate(1563.40,207.40) scale(0.6977)" stroke="#000" stroke-width="2.867"/>
<path d="M1650.4,154.8 L1687.2,191.3" stroke="#000" stroke-width="1.60" fill="none"/>
<path d="M1688.3,177.3 Q1686.0,182.5 1687.2,191.3 M1673.2,192.7 Q1678.4,190.2 1687.2,191.3" stroke="#000" stroke-width="1.84" fill="none" stroke-linecap="round"/>
<use href="#moon" transform="translate(1918.34,205.64) scale(0.6819)" stroke="#000" stroke-width="1.760"/>
<path d="M1480.7,381.8 L1510.6,351.9" stroke="#000" stroke-width="1.60" fill="none"/>
<path d="M1499.0,350.7 Q1503.0,353.1 1510.6,351.9 M1511.8,363.5 Q1509.4,359.5 1510.6,351.9" stroke="#000" stroke-width="1.84" fill="none" stroke-linecap="round"/>
<g transform="translate(1414.72,264.80) scale(0.7568)"><use href="#fcO" stroke="#999" stroke-width="1.321"/><use href="#fcB" stroke="#777" stroke-width="1.123"/></g>
<g transform="translate(1492.24,264.80) scale(0.7656)"><use href="#fcO" stroke="#999" stroke-width="1.306"/><use href="#fcB" stroke="#777" stroke-width="1.110"/></g>
<g transform="translate(1546.44,242.80) scale(0.7656)"><use href="#fcO" stroke="#999" stroke-width="1.306"/><use href="#fcB" stroke="#777" stroke-width="1.110"/></g>
<g transform="translate(1622.16,263.90) scale(0.7734)"><use href="#fcO" stroke="#999" stroke-width="1.293"/><use href="#fcB" stroke="#777" stroke-width="1.099"/></g>
<g transform="translate(1471.25,283.50) scale(0.7725)"><use href="#fcO" stroke="#999" stroke-width="1.295"/><use href="#fcB" stroke="#777" stroke-width="1.100"/></g>
<g transform="translate(1592.35,284.00) scale(0.7725)"><use href="#fcO" stroke="#999" stroke-width="1.295"/><use href="#fcB" stroke="#777" stroke-width="1.100"/></g>
<g transform="translate(1531.42,294.80) scale(1.0928)"><use href="#fcO" stroke="#555" stroke-width="1.007"/><use href="#fcB" stroke="#555" stroke-width="0.778"/></g>
<g transform="translate(1936.34,260.80) scale(0.7666)"><use href="#fcO" stroke="#999" stroke-width="1.304"/><use href="#fcB" stroke="#777" stroke-width="1.109"/></g>
<g transform="translate(1900.45,273.20) scale(0.7705)"><use href="#fcO" stroke="#999" stroke-width="1.298"/><use href="#fcB" stroke="#777" stroke-width="1.103"/></g>
<g transform="translate(1944.84,294.00) scale(0.7666)"><use href="#fcO" stroke="#999" stroke-width="1.304"/><use href="#fcB" stroke="#777" stroke-width="1.109"/></g>
<use href="#tc" transform="translate(1741.80,132.00) scale(0.7167,0.7047)" stroke="#555" stroke-width="1.266"/>
<use href="#tc" transform="translate(1779.60,154.40) scale(0.7108,0.7052)" stroke="#555" stroke-width="1.271"/>
<use href="#redx" transform="translate(1755,179.6) scale(0.9923,0.9913)"/>
<use href="#redx" transform="translate(1798,202.8) scale(0.9692,0.9892)"/>
<path d="M1399.10,748.00 L1401.10,748.03 L1403.10,748.06 L1405.10,748.10 L1407.10,748.13 L1409.10,748.16 L1411.10,748.19 L1413.10,748.22 L1415.10,748.24 L1417.10,748.27 L1419.10,748.29 L1421.10,748.31 L1423.10,748.33 L1425.10,748.35 L1427.10,748.37 L1429.10,748.38 L1431.10,748.39 L1433.10,748.39 L1435.10,748.40 L1437.10,748.40 L1439.10,748.39 L1441.10,748.38 L1443.10,748.37 L1445.10,748.35 L1447.10,748.33 L1449.10,748.30 L1451.10,748.28 L1453.10,748.25 L1455.10,748.22 L1457.10,748.19 L1459.10,748.16 L1461.10,748.13 L1463.10,748.10 L1465.10,748.07 L1467.10,748.04 L1469.10,748.02 L1471.10,747.99 L1473.10,747.97 L1475.10,747.95 L1477.10,747.94 L1479.10,747.94 L1481.10,747.96 L1483.10,747.99 L1485.10,748.03 L1487.10,748.09 L1489.10,748.15 L1491.10,748.23 L1493.10,748.30 L1495.10,748.38 L1497.10,748.46 L1499.10,748.54 L1501.10,748.62 L1503.10,748.72 L1505.10,748.87 L1507.10,749.07 L1509.10,749.33 L1511.10,749.62 L1513.10,749.94 L1515.10,750.29 L1517.10,750.65 L1519.10,751.02 L1521.10,751.40 L1523.10,751.79 L1525.10,752.33 L1527.10,752.99 L1529.10,753.77 L1531.10,754.63 L1533.10,755.54 L1535.10,756.56 L1537.10,757.76 L1539.10,759.12 L1541.10,760.60 L1543.10,762.17 L1545.10,763.80 L1547.10,765.46 L1549.10,767.19 L1551.10,769.04 L1553.10,770.99 L1555.10,773.00 L1557.10,775.03 L1559.10,777.05 L1561.10,779.01 L1563.10,780.89 L1565.10,782.76 L1567.10,784.65 L1569.10,786.53 L1571.10,788.36 L1573.10,790.12 L1575.10,791.78 L1577.10,793.32 L1579.10,794.72 L1581.10,796.09 L1583.10,797.43 L1585.10,798.73 L1587.10,799.98 L1589.10,801.18 L1591.10,802.33 L1593.10,803.40 L1595.10,804.41 L1597.10,805.34 L1599.10,806.19 L1601.10,806.96 L1603.10,807.72 L1605.10,808.46 L1607.10,809.18 L1609.10,809.87 L1611.10,810.51 L1613.10,811.09 L1615.10,811.61 L1617.10,812.06 L1619.10,812.41 L1621.10,812.71 L1623.10,813.00 L1625.10,813.30 L1627.10,813.58 L1629.10,813.85 L1631.10,814.10 L1633.10,814.32 L1635.10,814.52 L1637.10,814.68 L1639.10,814.80 L1641.10,814.88 L1643.10,814.91 L1645.10,814.89 L1647.10,814.82 L1649.10,814.71 L1651.10,814.57 L1653.10,814.39 L1655.10,814.18 L1657.10,813.95 L1659.10,813.70 L1661.10,813.43 L1663.10,813.16 L1665.10,812.87 L1667.10,812.58 L1669.10,812.28 L1671.10,811.93 L1673.10,811.54 L1675.10,811.10 L1677.10,810.62 L1679.10,810.10 L1681.10,809.55 L1683.10,808.96 L1685.10,808.35 L1687.10,807.71 L1689.10,807.04 L1691.10,806.36 L1693.10,805.66 L1695.10,804.94 L1697.10,804.21 L1699.10,803.44 L1701.10,802.60 L1703.10,801.71 L1705.10,800.76 L1707.10,799.77 L1709.10,798.74 L1711.10,797.68 L1713.10,796.59 L1715.10,795.49 L1717.10,794.36 L1719.10,793.23 L1721.10,792.09 L1723.10,790.96 L1725.10,789.83 L1727.10,788.71 L1729.10,787.54 L1731.10,786.34 L1733.10,785.12 L1735.10,783.87 L1737.10,782.61 L1739.10,781.34 L1741.10,780.07 L1743.10,778.81 L1745.10,777.56 L1747.10,776.33 L1749.10,775.13 L1751.10,773.97 L1753.10,772.85 L1755.10,771.78 L1757.10,770.75 L1759.10,769.75 L1761.10,768.78 L1763.10,767.83 L1765.10,766.89 L1767.10,765.98 L1769.10,765.07 L1771.10,764.16 L1773.10,763.26 L1775.10,762.36 L1777.10,761.44 L1779.10,760.51 L1781.10,759.57 L1783.10,758.60 L1785.10,757.63 L1787.10,756.68 L1789.10,755.77 L1791.10,754.92 L1793.10,754.07 L1795.10,753.23 L1797.10,752.42 L1799.10,751.66 L1801.10,750.96 L1803.10,750.32 L1805.10,749.76 L1807.10,749.20 L1809.10,748.65 L1811.10,748.11 L1813.10,747.60 L1815.10,747.13 L1817.10,746.72 L1819.10,746.37 L1821.10,746.12 L1823.10,745.96 L1825.10,745.88 L1827.10,745.81 L1829.10,745.74 L1831.10,745.67 L1833.10,745.61 L1835.10,745.55 L1837.10,745.50 L1839.10,745.44 L1841.10,745.39 L1843.10,745.34 L1845.10,745.28 L1847.10,745.23 L1849.10,745.18 L1851.10,745.13 L1853.10,745.08 L1855.10,745.02 L1857.10,744.97 L1859.10,744.91 L1861.10,744.85 L1863.10,744.78 L1865.10,744.72 L1867.10,744.65 L1869.10,744.59 L1871.10,744.52 L1873.10,744.45 L1875.10,744.39 L1877.10,744.32 L1879.10,744.26 L1881.10,744.20 L1883.10,744.14 L1885.10,744.08 L1887.10,744.03 L1889.10,743.98 L1891.10,743.93 L1893.10,743.89 L1895.10,743.86 L1897.10,743.83 L1899.10,743.82 L1901.10,743.84 L1903.10,743.87 L1905.10,743.93 L1907.10,744.00 L1909.10,744.08 L1911.10,744.18 L1913.10,744.28 L1915.10,744.39 L1917.10,744.51 L1919.10,744.63 L1921.10,744.75 L1923.10,744.87 L1925.10,744.98 L1927.10,745.10 L1929.10,745.23 L1931.10,745.38 L1933.10,745.54 L1935.10,745.71 L1937.10,745.90 L1939.10,746.09 L1941.10,746.29 L1943.10,746.50 L1945.10,746.71 L1947.10,746.93 L1949.10,747.16 L1951.10,747.39 L1953.10,747.62 L1955.10,747.85 L1955.60,747.90 L1955.6,755.5 L1399.1,755.5 Z" fill="#cb9b9a" clip-path="url(#clip6)"/>
<path d="M1399.10,748.00 L1401.10,748.03 L1403.10,748.06 L1405.10,748.10 L1407.10,748.13 L1409.10,748.16 L1411.10,748.19 L1413.10,748.22 L1415.10,748.24 L1417.10,748.27 L1419.10,748.29 L1421.10,748.31 L1423.10,748.33 L1425.10,748.35 L1427.10,748.37 L1429.10,748.38 L1431.10,748.39 L1433.10,748.39 L1435.10,748.40 L1437.10,748.40 L1439.10,748.39 L1441.10,748.38 L1443.10,748.37 L1445.10,748.35 L1447.10,748.33 L1449.10,748.30 L1451.10,748.28 L1453.10,748.25 L1455.10,748.22 L1457.10,748.19 L1459.10,748.16 L1461.10,748.13 L1463.10,748.10 L1465.10,748.07 L1467.10,748.04 L1469.10,748.02 L1471.10,747.99 L1473.10,747.97 L1475.10,747.95 L1477.10,747.94 L1479.10,747.94 L1481.10,747.96 L1483.10,747.99 L1485.10,748.03 L1487.10,748.09 L1489.10,748.15 L1491.10,748.23 L1493.10,748.30 L1495.10,748.38 L1497.10,748.46 L1499.10,748.54 L1501.10,748.62 L1503.10,748.72 L1505.10,748.87 L1507.10,749.07 L1509.10,749.33 L1511.10,749.62 L1513.10,749.94 L1515.10,750.29 L1517.10,750.65 L1519.10,751.02 L1521.10,751.40 L1523.10,751.79 L1525.10,752.33 L1527.10,752.99 L1529.10,753.77 L1531.10,754.63 L1533.10,755.54 L1535.10,756.56 L1537.10,757.76 L1539.10,759.12 L1541.10,760.60 L1543.10,762.17 L1545.10,763.80 L1547.10,765.46 L1549.10,767.19 L1551.10,769.04 L1553.10,770.99 L1555.10,773.00 L1557.10,775.03 L1559.10,777.05 L1561.10,779.01 L1563.10,780.89 L1565.10,782.76 L1567.10,784.65 L1569.10,786.53 L1571.10,788.36 L1573.10,790.12 L1575.10,791.78 L1577.10,793.32 L1579.10,794.72 L1581.10,796.09 L1583.10,797.43 L1585.10,798.73 L1587.10,799.98 L1589.10,801.18 L1591.10,802.33 L1593.10,803.40 L1595.10,804.41 L1597.10,805.34 L1599.10,806.19 L1601.10,806.96 L1603.10,807.72 L1605.10,808.46 L1607.10,809.18 L1609.10,809.87 L1611.10,810.51 L1613.10,811.09 L1615.10,811.61 L1617.10,812.06 L1619.10,812.41 L1621.10,812.71 L1623.10,813.00 L1625.10,813.30 L1627.10,813.58 L1629.10,813.85 L1631.10,814.10 L1633.10,814.32 L1635.10,814.52 L1637.10,814.68 L1639.10,814.80 L1641.10,814.88 L1643.10,814.91 L1645.10,814.89 L1647.10,814.82 L1649.10,814.71 L1651.10,814.57 L1653.10,814.39 L1655.10,814.18 L1657.10,813.95 L1659.10,813.70 L1661.10,813.43 L1663.10,813.16 L1665.10,812.87 L1667.10,812.58 L1669.10,812.28 L1671.10,811.93 L1673.10,811.54 L1675.10,811.10 L1677.10,810.62 L1679.10,810.10 L1681.10,809.55 L1683.10,808.96 L1685.10,808.35 L1687.10,807.71 L1689.10,807.04 L1691.10,806.36 L1693.10,805.66 L1695.10,804.94 L1697.10,804.21 L1699.10,803.44 L1701.10,802.60 L1703.10,801.71 L1705.10,800.76 L1707.10,799.77 L1709.10,798.74 L1711.10,797.68 L1713.10,796.59 L1715.10,795.49 L1717.10,794.36 L1719.10,793.23 L1721.10,792.09 L1723.10,790.96 L1725.10,789.83 L1727.10,788.71 L1729.10,787.54 L1731.10,786.34 L1733.10,785.12 L1735.10,783.87 L1737.10,782.61 L1739.10,781.34 L1741.10,780.07 L1743.10,778.81 L1745.10,777.56 L1747.10,776.33 L1749.10,775.13 L1751.10,773.97 L1753.10,772.85 L1755.10,771.78 L1757.10,770.75 L1759.10,769.75 L1761.10,768.78 L1763.10,767.83 L1765.10,766.89 L1767.10,765.98 L1769.10,765.07 L1771.10,764.16 L1773.10,763.26 L1775.10,762.36 L1777.10,761.44 L1779.10,760.51 L1781.10,759.57 L1783.10,758.60 L1785.10,757.63 L1787.10,756.68 L1789.10,755.77 L1791.10,754.92 L1793.10,754.07 L1795.10,753.23 L1797.10,752.42 L1799.10,751.66 L1801.10,750.96 L1803.10,750.32 L1805.10,749.76 L1807.10,749.20 L1809.10,748.65 L1811.10,748.11 L1813.10,747.60 L1815.10,747.13 L1817.10,746.72 L1819.10,746.37 L1821.10,746.12 L1823.10,745.96 L1825.10,745.88 L1827.10,745.81 L1829.10,745.74 L1831.10,745.67 L1833.10,745.61 L1835.10,745.55 L1837.10,745.50 L1839.10,745.44 L1841.10,745.39 L1843.10,745.34 L1845.10,745.28 L1847.10,745.23 L1849.10,745.18 L1851.10,745.13 L1853.10,745.08 L1855.10,745.02 L1857.10,744.97 L1859.10,744.91 L1861.10,744.85 L1863.10,744.78 L1865.10,744.72 L1867.10,744.65 L1869.10,744.59 L1871.10,744.52 L1873.10,744.45 L1875.10,744.39 L1877.10,744.32 L1879.10,744.26 L1881.10,744.20 L1883.10,744.14 L1885.10,744.08 L1887.10,744.03 L1889.10,743.98 L1891.10,743.93 L1893.10,743.89 L1895.10,743.86 L1897.10,743.83 L1899.10,743.82 L1901.10,743.84 L1903.10,743.87 L1905.10,743.93 L1907.10,744.00 L1909.10,744.08 L1911.10,744.18 L1913.10,744.28 L1915.10,744.39 L1917.10,744.51 L1919.10,744.63 L1921.10,744.75 L1923.10,744.87 L1925.10,744.98 L1927.10,745.10 L1929.10,745.23 L1931.10,745.38 L1933.10,745.54 L1935.10,745.71 L1937.10,745.90 L1939.10,746.09 L1941.10,746.29 L1943.10,746.50 L1945.10,746.71 L1947.10,746.93 L1949.10,747.16 L1951.10,747.39 L1953.10,747.62 L1955.10,747.85 L1955.60,747.90 L1955.6,755.5 L1399.1,755.5 Z" fill="#a4bbe7" clip-path="url(#clip7)"/>
<path d="M1399.10,748.00 L1401.10,748.03 L1403.10,748.06 L1405.10,748.10 L1407.10,748.13 L1409.10,748.16 L1411.10,748.19 L1413.10,748.22 L1415.10,748.24 L1417.10,748.27 L1419.10,748.29 L1421.10,748.31 L1423.10,748.33 L1425.10,748.35 L1427.10,748.37 L1429.10,748.38 L1431.10,748.39 L1433.10,748.39 L1435.10,748.40 L1437.10,748.40 L1439.10,748.39 L1441.10,748.38 L1443.10,748.37 L1445.10,748.35 L1447.10,748.33 L1449.10,748.30 L1451.10,748.28 L1453.10,748.25 L1455.10,748.22 L1457.10,748.19 L1459.10,748.16 L1461.10,748.13 L1463.10,748.10 L1465.10,748.07 L1467.10,748.04 L1469.10,748.02 L1471.10,747.99 L1473.10,747.97 L1475.10,747.95 L1477.10,747.94 L1479.10,747.94 L1481.10,747.96 L1483.10,747.99 L1485.10,748.03 L1487.10,748.09 L1489.10,748.15 L1491.10,748.23 L1493.10,748.30 L1495.10,748.38 L1497.10,748.46 L1499.10,748.54 L1501.10,748.62 L1503.10,748.72 L1505.10,748.87 L1507.10,749.07 L1509.10,749.33 L1511.10,749.62 L1513.10,749.94 L1515.10,750.29 L1517.10,750.65 L1519.10,751.02 L1521.10,751.40 L1523.10,751.79 L1525.10,752.33 L1527.10,752.99 L1529.10,753.77 L1531.10,754.63 L1533.10,755.54 L1535.10,756.56 L1537.10,757.76 L1539.10,759.12 L1541.10,760.60 L1543.10,762.17 L1545.10,763.80 L1547.10,765.46 L1549.10,767.19 L1551.10,769.04 L1553.10,770.99 L1555.10,773.00 L1557.10,775.03 L1559.10,777.05 L1561.10,779.01 L1563.10,780.89 L1565.10,782.76 L1567.10,784.65 L1569.10,786.53 L1571.10,788.36 L1573.10,790.12 L1575.10,791.78 L1577.10,793.32 L1579.10,794.72 L1581.10,796.09 L1583.10,797.43 L1585.10,798.73 L1587.10,799.98 L1589.10,801.18 L1591.10,802.33 L1593.10,803.40 L1595.10,804.41 L1597.10,805.34 L1599.10,806.19 L1601.10,806.96 L1603.10,807.72 L1605.10,808.46 L1607.10,809.18 L1609.10,809.87 L1611.10,810.51 L1613.10,811.09 L1615.10,811.61 L1617.10,812.06 L1619.10,812.41 L1621.10,812.71 L1623.10,813.00 L1625.10,813.30 L1627.10,813.58 L1629.10,813.85 L1631.10,814.10 L1633.10,814.32 L1635.10,814.52 L1637.10,814.68 L1639.10,814.80 L1641.10,814.88 L1643.10,814.91 L1645.10,814.89 L1647.10,814.82 L1649.10,814.71 L1651.10,814.57 L1653.10,814.39 L1655.10,814.18 L1657.10,813.95 L1659.10,813.70 L1661.10,813.43 L1663.10,813.16 L1665.10,812.87 L1667.10,812.58 L1669.10,812.28 L1671.10,811.93 L1673.10,811.54 L1675.10,811.10 L1677.10,810.62 L1679.10,810.10 L1681.10,809.55 L1683.10,808.96 L1685.10,808.35 L1687.10,807.71 L1689.10,807.04 L1691.10,806.36 L1693.10,805.66 L1695.10,804.94 L1697.10,804.21 L1699.10,803.44 L1701.10,802.60 L1703.10,801.71 L1705.10,800.76 L1707.10,799.77 L1709.10,798.74 L1711.10,797.68 L1713.10,796.59 L1715.10,795.49 L1717.10,794.36 L1719.10,793.23 L1721.10,792.09 L1723.10,790.96 L1725.10,789.83 L1727.10,788.71 L1729.10,787.54 L1731.10,786.34 L1733.10,785.12 L1735.10,783.87 L1737.10,782.61 L1739.10,781.34 L1741.10,780.07 L1743.10,778.81 L1745.10,777.56 L1747.10,776.33 L1749.10,775.13 L1751.10,773.97 L1753.10,772.85 L1755.10,771.78 L1757.10,770.75 L1759.10,769.75 L1761.10,768.78 L1763.10,767.83 L1765.10,766.89 L1767.10,765.98 L1769.10,765.07 L1771.10,764.16 L1773.10,763.26 L1775.10,762.36 L1777.10,761.44 L1779.10,760.51 L1781.10,759.57 L1783.10,758.60 L1785.10,757.63 L1787.10,756.68 L1789.10,755.77 L1791.10,754.92 L1793.10,754.07 L1795.10,753.23 L1797.10,752.42 L1799.10,751.66 L1801.10,750.96 L1803.10,750.32 L1805.10,749.76 L1807.10,749.20 L1809.10,748.65 L1811.10,748.11 L1813.10,747.60 L1815.10,747.13 L1817.10,746.72 L1819.10,746.37 L1821.10,746.12 L1823.10,745.96 L1825.10,745.88 L1827.10,745.81 L1829.10,745.74 L1831.10,745.67 L1833.10,745.61 L1835.10,745.55 L1837.10,745.50 L1839.10,745.44 L1841.10,745.39 L1843.10,745.34 L1845.10,745.28 L1847.10,745.23 L1849.10,745.18 L1851.10,745.13 L1853.10,745.08 L1855.10,745.02 L1857.10,744.97 L1859.10,744.91 L1861.10,744.85 L1863.10,744.78 L1865.10,744.72 L1867.10,744.65 L1869.10,744.59 L1871.10,744.52 L1873.10,744.45 L1875.10,744.39 L1877.10,744.32 L1879.10,744.26 L1881.10,744.20 L1883.10,744.14 L1885.10,744.08 L1887.10,744.03 L1889.10,743.98 L1891.10,743.93 L1893.10,743.89 L1895.10,743.86 L1897.10,743.83 L1899.10,743.82 L1901.10,743.84 L1903.10,743.87 L1905.10,743.93 L1907.10,744.00 L1909.10,744.08 L1911.10,744.18 L1913.10,744.28 L1915.10,744.39 L1917.10,744.51 L1919.10,744.63 L1921.10,744.75 L1923.10,744.87 L1925.10,744.98 L1927.10,745.10 L1929.10,745.23 L1931.10,745.38 L1933.10,745.54 L1935.10,745.71 L1937.10,745.90 L1939.10,746.09 L1941.10,746.29 L1943.10,746.50 L1945.10,746.71 L1947.10,746.93 L1949.10,747.16 L1951.10,747.39 L1953.10,747.62 L1955.10,747.85 L1955.60,747.90 L1955.6,755.5 L1399.1,755.5 Z" fill="#cb9b9a" clip-path="url(#clip8)"/>
<path d="M1393.5,683.8 H1405.5" stroke="#aaa" stroke-width="1.3"/>
<path d="M1393.5,827.0 H1405.5" stroke="#aaa" stroke-width="1.3"/>
<path d="M1412.8,748.5 V761.5" stroke="#888" stroke-width="1"/>
<path d="M1562.3,748.5 V761.5" stroke="#888" stroke-width="1"/>
<path d="M1712.4,748.5 V761.5" stroke="#888" stroke-width="1"/>
<path d="M1862.7,748.5 V761.5" stroke="#888" stroke-width="1"/>
<path d="M1386.0,755.50 H1966.5" stroke="#444" stroke-width="1.60"/>
<use href="#ah" transform="translate(1974.5,755.50)"/>
<path d="M1399.50,858.8 V645.7" stroke="#444" stroke-width="1.60"/>
<use href="#ah" transform="translate(1399.50,637.7) rotate(-90)"/>
<path d="M1534.0,645.0 V872.0" stroke="#666" stroke-width="1.0" stroke-dasharray="1.3,1.0"/>
<path d="M1911.5,643.6 V870.6" stroke="#666" stroke-width="1.0" stroke-dasharray="1.3,1.0"/>
<path d="M1399.10,748.00 L1401.10,748.03 L1403.10,748.06 L1405.10,748.10 L1407.10,748.13 L1409.10,748.16 L1411.10,748.19 L1413.10,748.22 L1415.10,748.24 L1417.10,748.27 L1419.10,748.29 L1421.10,748.31 L1423.10,748.33 L1425.10,748.35 L1427.10,748.37 L1429.10,748.38 L1431.10,748.39 L1433.10,748.39 L1435.10,748.40 L1437.10,748.40 L1439.10,748.39 L1441.10,748.38 L1443.10,748.37 L1445.10,748.35 L1447.10,748.33 L1449.10,748.30 L1451.10,748.28 L1453.10,748.25 L1455.10,748.22 L1457.10,748.19 L1459.10,748.16 L1461.10,748.13 L1463.10,748.10 L1465.10,748.07 L1467.10,748.04 L1469.10,748.02 L1471.10,747.99 L1473.10,747.97 L1475.10,747.95 L1477.10,747.94 L1479.10,747.94 L1481.10,747.96 L1483.10,747.99 L1485.10,748.03 L1487.10,748.09 L1489.10,748.15 L1491.10,748.23 L1493.10,748.30 L1495.10,748.38 L1497.10,748.46 L1499.10,748.54 L1501.10,748.62 L1503.10,748.72 L1505.10,748.87 L1507.10,749.07 L1509.10,749.33 L1511.10,749.62 L1513.10,749.94 L1515.10,750.29 L1517.10,750.65 L1519.10,751.02 L1521.10,751.40 L1523.10,751.79 L1525.10,752.33 L1527.10,752.99 L1529.10,753.77 L1531.10,754.63 L1533.10,755.54 L1535.10,756.56 L1537.10,757.76 L1539.10,759.12 L1541.10,760.60 L1543.10,762.17 L1545.10,763.80 L1547.10,765.46 L1549.10,767.19 L1551.10,769.04 L1553.10,770.99 L1555.10,773.00 L1557.10,775.03 L1559.10,777.05 L1561.10,779.01 L1563.10,780.89 L1565.10,782.76 L1567.10,784.65 L1569.10,786.53 L1571.10,788.36 L1573.10,790.12 L1575.10,791.78 L1577.10,793.32 L1579.10,794.72 L1581.10,796.09 L1583.10,797.43 L1585.10,798.73 L1587.10,799.98 L1589.10,801.18 L1591.10,802.33 L1593.10,803.40 L1595.10,804.41 L1597.10,805.34 L1599.10,806.19 L1601.10,806.96 L1603.10,807.72 L1605.10,808.46 L1607.10,809.18 L1609.10,809.87 L1611.10,810.51 L1613.10,811.09 L1615.10,811.61 L1617.10,812.06 L1619.10,812.41 L1621.10,812.71 L1623.10,813.00 L1625.10,813.30 L1627.10,813.58 L1629.10,813.85 L1631.10,814.10 L1633.10,814.32 L1635.10,814.52 L1637.10,814.68 L1639.10,814.80 L1641.10,814.88 L1643.10,814.91 L1645.10,814.89 L1647.10,814.82 L1649.10,814.71 L1651.10,814.57 L1653.10,814.39 L1655.10,814.18 L1657.10,813.95 L1659.10,813.70 L1661.10,813.43 L1663.10,813.16 L1665.10,812.87 L1667.10,812.58 L1669.10,812.28 L1671.10,811.93 L1673.10,811.54 L1675.10,811.10 L1677.10,810.62 L1679.10,810.10 L1681.10,809.55 L1683.10,808.96 L1685.10,808.35 L1687.10,807.71 L1689.10,807.04 L1691.10,806.36 L1693.10,805.66 L1695.10,804.94 L1697.10,804.21 L1699.10,803.44 L1701.10,802.60 L1703.10,801.71 L1705.10,800.76 L1707.10,799.77 L1709.10,798.74 L1711.10,797.68 L1713.10,796.59 L1715.10,795.49 L1717.10,794.36 L1719.10,793.23 L1721.10,792.09 L1723.10,790.96 L1725.10,789.83 L1727.10,788.71 L1729.10,787.54 L1731.10,786.34 L1733.10,785.12 L1735.10,783.87 L1737.10,782.61 L1739.10,781.34 L1741.10,780.07 L1743.10,778.81 L1745.10,777.56 L1747.10,776.33 L1749.10,775.13 L1751.10,773.97 L1753.10,772.85 L1755.10,771.78 L1757.10,770.75 L1759.10,769.75 L1761.10,768.78 L1763.10,767.83 L1765.10,766.89 L1767.10,765.98 L1769.10,765.07 L1771.10,764.16 L1773.10,763.26 L1775.10,762.36 L1777.10,761.44 L1779.10,760.51 L1781.10,759.57 L1783.10,758.60 L1785.10,757.63 L1787.10,756.68 L1789.10,755.77 L1791.10,754.92 L1793.10,754.07 L1795.10,753.23 L1797.10,752.42 L1799.10,751.66 L1801.10,750.96 L1803.10,750.32 L1805.10,749.76 L1807.10,749.20 L1809.10,748.65 L1811.10,748.11 L1813.10,747.60 L1815.10,747.13 L1817.10,746.72 L1819.10,746.37 L1821.10,746.12 L1823.10,745.96 L1825.10,745.88 L1827.10,745.81 L1829.10,745.74 L1831.10,745.67 L1833.10,745.61 L1835.10,745.55 L1837.10,745.50 L1839.10,745.44 L1841.10,745.39 L1843.10,745.34 L1845.10,745.28 L1847.10,745.23 L1849.10,745.18 L1851.10,745.13 L1853.10,745.08 L1855.10,745.02 L1857.10,744.97 L1859.10,744.91 L1861.10,744.85 L1863.10,744.78 L1865.10,744.72 L1867.10,744.65 L1869.10,744.59 L1871.10,744.52 L1873.10,744.45 L1875.10,744.39 L1877.10,744.32 L1879.10,744.26 L1881.10,744.20 L1883.10,744.14 L1885.10,744.08 L1887.10,744.03 L1889.10,743.98 L1891.10,743.93 L1893.10,743.89 L1895.10,743.86 L1897.10,743.83 L1899.10,743.82 L1901.10,743.84 L1903.10,743.87 L1905.10,743.93 L1907.10,744.00 L1909.10,744.08 L1911.10,744.18 L1913.10,744.28 L1915.10,744.39 L1917.10,744.51 L1919.10,744.63 L1921.10,744.75 L1923.10,744.87 L1925.10,744.98 L1927.10,745.10 L1929.10,745.23 L1931.10,745.38 L1933.10,745.54 L1935.10,745.71 L1937.10,745.90 L1939.10,746.09 L1941.10,746.29 L1943.10,746.50 L1945.10,746.71 L1947.10,746.93 L1949.10,747.16 L1951.10,747.39 L1953.10,747.62 L1955.10,747.85 L1955.60,747.90" fill="none" stroke="#000" stroke-width="1.75"/>
<use href="#moon" transform="translate(1410.33,648.83) scale(0.6659)" stroke="#000" stroke-width="1.802"/>
<circle cx="1550.30" cy="660.60" r="5.55" fill="none" stroke="#000" stroke-width="1.90"/>
<use href="#sunR" transform="translate(1550.30,660.60) scale(0.7302)" stroke="#000" stroke-width="2.739"/>
<path d="M1657.2,625.7 L1687.1,655.3" stroke="#000" stroke-width="1.60" fill="none"/>
<path d="M1688.0,644.3 Q1685.8,648.0 1687.1,655.3 M1675.5,656.5 Q1679.5,654.1 1687.1,655.3" stroke="#000" stroke-width="1.84" fill="none" stroke-linecap="round"/>
<use href="#moon" transform="translate(1921.13,646.33) scale(0.6608)" stroke="#000" stroke-width="1.816"/>
<path d="M1479.5,826.8 L1509.7,796.9" stroke="#000" stroke-width="1.60" fill="none"/>
<path d="M1498.1,795.4 Q1502.1,797.9 1509.7,796.9 M1511.2,808.5 Q1508.7,804.5 1509.7,796.9" stroke="#000" stroke-width="1.84" fill="none" stroke-linecap="round"/>
<g transform="translate(1428.45,702.40) scale(0.7715)"><use href="#fcO" stroke="#999" stroke-width="1.296"/><use href="#fcB" stroke="#777" stroke-width="1.102"/></g>
<g transform="translate(1401.14,725.90) scale(0.7666)"><use href="#fcO" stroke="#999" stroke-width="1.304"/><use href="#fcB" stroke="#777" stroke-width="1.109"/></g>
<g transform="translate(1482.56,718.60) scale(0.7744)"><use href="#fcO" stroke="#999" stroke-width="1.291"/><use href="#fcB" stroke="#777" stroke-width="1.098"/></g>
<g transform="translate(1549.24,706.00) scale(0.7646)"><use href="#fcO" stroke="#999" stroke-width="1.308"/><use href="#fcB" stroke="#777" stroke-width="1.112"/></g>
<g transform="translate(1621.07,728.80) scale(0.7793)"><use href="#fcO" stroke="#999" stroke-width="1.283"/><use href="#fcB" stroke="#777" stroke-width="1.091"/></g>
<g transform="translate(1941.36,705.20) scale(0.7744)"><use href="#fcO" stroke="#999" stroke-width="1.291"/><use href="#fcB" stroke="#777" stroke-width="1.098"/></g>
<use href="#tc" transform="translate(1799.30,577.00) scale(0.7137,0.7031)" stroke="#555" stroke-width="1.270"/>
<use href="#redx" transform="translate(1812.4,629.9)"/>
<rect x="805.1" y="1024.1" width="1243.6" height="240.2" fill="none" stroke="#444" stroke-width="1.4"/>
<use href="#tc" transform="translate(837.00,1058.00) scale(1.0000,1.0000)" stroke="#333" stroke-width="1.100"/>
<g transform="translate(1156.02,1110.30) scale(1.6738)"><use href="#fcO" stroke="#444" stroke-width="0.777"/><use href="#fcB" stroke="#444" stroke-width="0.508"/></g>
<circle cx="1848.80" cy="1126.70" r="7.60" fill="none" stroke="#000" stroke-width="2.50"/>
<use href="#sunR" transform="translate(1848.80,1126.70) scale(1.0000)" stroke="#000" stroke-width="2.600"/>
<use href="#moon" transform="translate(1837.00,1202.20) scale(1.0054)" stroke="#000" stroke-width="1.890"/>
<text x="430.51" y="42.90" font-family="Liberation Sans" font-style="normal" font-weight="normal" font-size="34.978" textLength="53.544" lengthAdjust="spacingAndGlyphs" fill="#000">(a)</text>
<text x="292.50" y="92.22" font-family="Liberation Sans" font-style="normal" font-weight="normal" font-size="38.653" textLength="343.712" lengthAdjust="spacingAndGlyphs" fill="#000">WINTERTIME (DJF)</text>
<text x="1647.28" y="49.25" font-family="Liberation Sans" font-style="normal" font-weight="normal" font-size="36.558" textLength="54.428" lengthAdjust="spacingAndGlyphs" fill="#000">(b)</text>
<text x="1505.10" y="98.44" font-family="Liberation Sans" font-style="normal" font-weight="normal" font-size="38.331" textLength="349.943" lengthAdjust="spacingAndGlyphs" fill="#000">SUMMERTIME (JJA)</text>
<text x="958.30" y="148.00" font-family="Liberation Sans" font-style="normal" font-weight="normal" font-size="32.975" textLength="270.977" lengthAdjust="spacingAndGlyphs" fill="#000">Ground Elevation</text>
<text x="999.39" y="331.55" font-family="Liberation Sans" font-style="normal" font-weight="normal" font-size="31.365" textLength="156.958" lengthAdjust="spacingAndGlyphs" fill="#000">Highlands</text>
<text x="952.22" y="418.30" font-family="Liberation Sans" font-style="normal" font-weight="normal" font-size="34.909" textLength="120.427" lengthAdjust="spacingAndGlyphs" fill="#000">1000 m</text>
<text x="1008.08" y="755.30" font-family="Liberation Sans" font-style="normal" font-weight="normal" font-size="32.390" textLength="145.841" lengthAdjust="spacingAndGlyphs" fill="#000">Lowlands</text>
<text x="955.40" y="853.20" font-family="Liberation Sans" font-style="normal" font-weight="normal" font-size="33.332" textLength="59.327" lengthAdjust="spacingAndGlyphs" fill="#000">0 m</text>
<text x="810.20" y="1049.25" font-family="Liberation Sans" font-style="normal" font-weight="normal" font-size="31.364" textLength="114.424" lengthAdjust="spacingAndGlyphs" fill="#000">Legend</text>
<text x="941.90" y="1151.40" font-family="Liberation Sans" font-style="normal" font-weight="normal" font-size="31.750" textLength="126.633" lengthAdjust="spacingAndGlyphs" fill="#000">Aerosol-</text>
<text x="940.80" y="1189.00" font-family="Liberation Sans" font-style="normal" font-weight="normal" font-size="32.000" textLength="198.446" lengthAdjust="spacingAndGlyphs" fill="#000">independent</text>
<text x="940.80" y="1229.70" font-family="Liberation Sans" font-style="normal" font-weight="normal" font-size="32.789" textLength="106.561" lengthAdjust="spacingAndGlyphs" fill="#000">Clouds</text>
<text x="1161.30" y="1155.70" font-family="Liberation Sans" font-style="normal" font-weight="normal" font-size="32.975" textLength="125.419" lengthAdjust="spacingAndGlyphs" fill="#000">Aerosol-</text>
<text x="1159.90" y="1193.23" font-family="Liberation Sans" font-style="normal" font-weight="normal" font-size="31.906" textLength="169.120" lengthAdjust="spacingAndGlyphs" fill="#000">dependent</text>
<text x="1159.90" y="1233.60" font-family="Liberation Sans" font-style="normal" font-weight="normal" font-size="32.390" textLength="106.561" lengthAdjust="spacingAndGlyphs" fill="#000">Clouds</text>
<text x="1355.90" y="1133.75" font-family="Liberation Sans" font-style="normal" font-weight="normal" font-size="31.364" textLength="397.740" lengthAdjust="spacingAndGlyphs" fill="#000"><tspan font-weight="bold">LW</tspan>: Downward longwave</text>
<text x="1355.89" y="1174.40" font-family="Liberation Sans" font-style="normal" font-weight="normal" font-size="34.009" textLength="140.803" lengthAdjust="spacingAndGlyphs" fill="#000">radiation</text>
<text x="1356.90" y="1236.50" font-family="Liberation Sans" font-style="normal" font-weight="normal" font-size="32.390" textLength="394.134" lengthAdjust="spacingAndGlyphs" fill="#000"><tspan font-weight="bold">SW</tspan>: Shortwave radiation</text>
<text x="1884.00" y="1134.82" font-family="Liberation Sans" font-style="normal" font-weight="normal" font-size="31.681" textLength="134.703" lengthAdjust="spacingAndGlyphs" fill="#000">Daytime</text>
<text x="1876.59" y="1228.24" font-family="Liberation Sans" font-style="normal" font-weight="normal" font-size="30.118" textLength="156.309" lengthAdjust="spacingAndGlyphs" fill="#000">Nighttime</text>
<text x="78.90" y="259.20" font-family="Liberation Sans" font-style="normal" font-weight="normal" font-size="24.453" textLength="49.232" lengthAdjust="spacingAndGlyphs" fill="#000">+0.5</text>
<text x="87.10" y="401.80" font-family="Liberation Sans" font-style="normal" font-weight="normal" font-size="24.003" textLength="40.029" lengthAdjust="spacingAndGlyphs" fill="#000">-0.5</text>
<text x="78.90" y="703.20" font-family="Liberation Sans" font-style="normal" font-weight="normal" font-size="24.453" textLength="49.232" lengthAdjust="spacingAndGlyphs" fill="#000">+0.5</text>
<text x="87.10" y="845.80" font-family="Liberation Sans" font-style="normal" font-weight="normal" font-size="24.003" textLength="40.029" lengthAdjust="spacingAndGlyphs" fill="#000">-0.5</text>
<text x="135.89" y="351.90" font-family="Liberation Sans" font-style="normal" font-weight="normal" font-size="22.385" textLength="26.518" lengthAdjust="spacingAndGlyphs" fill="#000">00</text>
<text x="284.28" y="351.90" font-family="Liberation Sans" font-style="normal" font-weight="normal" font-size="22.385" textLength="26.848" lengthAdjust="spacingAndGlyphs" fill="#000">06</text>
<text x="433.62" y="351.80" font-family="Liberation Sans" font-style="normal" font-weight="normal" font-size="21.418" textLength="26.123" lengthAdjust="spacingAndGlyphs" fill="#000">12</text>
<text x="585.97" y="354.20" font-family="Liberation Sans" font-style="normal" font-weight="normal" font-size="21.418" textLength="26.612" lengthAdjust="spacingAndGlyphs" fill="#000">18</text>
<text x="135.89" y="794.50" font-family="Liberation Sans" font-style="normal" font-weight="normal" font-size="21.835" textLength="26.518" lengthAdjust="spacingAndGlyphs" fill="#000">00</text>
<text x="284.76" y="794.50" font-family="Liberation Sans" font-style="normal" font-weight="normal" font-size="21.835" textLength="26.327" lengthAdjust="spacingAndGlyphs" fill="#000">06</text>
<text x="433.18" y="795.00" font-family="Liberation Sans" font-style="normal" font-weight="normal" font-size="22.258" textLength="26.374" lengthAdjust="spacingAndGlyphs" fill="#000">12</text>
<text x="584.58" y="795.00" font-family="Liberation Sans" font-style="normal" font-weight="normal" font-size="22.258" textLength="26.271" lengthAdjust="spacingAndGlyphs" fill="#000">18</text>
<text x="1344.90" y="244.40" font-family="Liberation Sans" font-style="normal" font-weight="normal" font-size="23.559" textLength="49.232" lengthAdjust="spacingAndGlyphs" fill="#000">+0.5</text>
<text x="1353.10" y="387.60" font-family="Liberation Sans" font-style="normal" font-weight="normal" font-size="23.559" textLength="40.029" lengthAdjust="spacingAndGlyphs" fill="#000">-0.5</text>
<text x="1344.90" y="689.40" font-family="Liberation Sans" font-style="normal" font-weight="normal" font-size="23.559" textLength="49.232" lengthAdjust="spacingAndGlyphs" fill="#000">+0.5</text>
<text x="1353.10" y="832.60" font-family="Liberation Sans" font-style="normal" font-weight="normal" font-size="23.559" textLength="40.029" lengthAdjust="spacingAndGlyphs" fill="#000">-0.5</text>
<text x="1399.72" y="334.50" font-family="Liberation Sans" font-style="normal" font-weight="normal" font-size="23.559" textLength="25.774" lengthAdjust="spacingAndGlyphs" fill="#000">00</text>
<text x="1548.01" y="335.00" font-family="Liberation Sans" font-style="normal" font-weight="normal" font-size="21.007" textLength="27.063" lengthAdjust="spacingAndGlyphs" fill="#000">06</text>
<text x="1698.52" y="336.50" font-family="Liberation Sans" font-style="normal" font-weight="normal" font-size="21.418" textLength="27.682" lengthAdjust="spacingAndGlyphs" fill="#000">12</text>
<text x="1850.00" y="338.00" font-family="Liberation Sans" font-style="normal" font-weight="normal" font-size="21.418" textLength="26.710" lengthAdjust="spacingAndGlyphs" fill="#000">18</text>
<text x="14.99" y="204.00" font-family="Liberation Serif" font-style="normal" font-weight="normal" font-size="36.054" textLength="27.735" lengthAdjust="spacingAndGlyphs" fill="#000">&#916;</text>
<text x="41.01" y="204.30" font-family="Liberation Serif" font-style="italic" font-weight="normal" font-size="35.267" textLength="23.636" lengthAdjust="spacingAndGlyphs" fill="#000">T</text>
<text x="69.20" y="205.19" font-family="Liberation Serif" font-style="normal" font-weight="normal" font-size="39.701" textLength="10.452" lengthAdjust="spacingAndGlyphs" fill="#000">(</text>
<text x="75.86" y="208.24" font-family="Liberation Sans" font-style="normal" font-weight="normal" font-size="36.386" textLength="14.471" lengthAdjust="spacingAndGlyphs" fill="#000">&#176;</text>
<text x="90.41" y="206.30" font-family="Liberation Sans" font-style="normal" font-weight="normal" font-size="35.041" textLength="22.295" lengthAdjust="spacingAndGlyphs" fill="#000">C</text>
<text x="112.28" y="204.40" font-family="Liberation Serif" font-style="normal" font-weight="normal" font-size="38.533" textLength="10.843" lengthAdjust="spacingAndGlyphs" fill="#000">)</text>
<text x="14.99" y="648.00" font-family="Liberation Serif" font-style="normal" font-weight="normal" font-size="36.054" textLength="27.735" lengthAdjust="spacingAndGlyphs" fill="#000">&#916;</text>
<text x="41.01" y="648.30" font-family="Liberation Serif" font-style="italic" font-weight="normal" font-size="35.267" textLength="23.636" lengthAdjust="spacingAndGlyphs" fill="#000">T</text>
<text x="69.20" y="649.19" font-family="Liberation Serif" font-style="normal" font-weight="normal" font-size="39.701" textLength="10.452" lengthAdjust="spacingAndGlyphs" fill="#000">(</text>
<text x="75.86" y="652.24" font-family="Liberation Sans" font-style="normal" font-weight="normal" font-size="36.386" textLength="14.471" lengthAdjust="spacingAndGlyphs" fill="#000">&#176;</text>
<text x="90.41" y="650.30" font-family="Liberation Sans" font-style="normal" font-weight="normal" font-size="35.041" textLength="22.295" lengthAdjust="spacingAndGlyphs" fill="#000">C</text>
<text x="112.28" y="648.40" font-family="Liberation Serif" font-style="normal" font-weight="normal" font-size="38.533" textLength="10.843" lengthAdjust="spacingAndGlyphs" fill="#000">)</text>
<text x="1280.85" y="189.30" font-family="Liberation Serif" font-style="normal" font-weight="normal" font-size="37.417" textLength="27.633" lengthAdjust="spacingAndGlyphs" fill="#000">&#916;</text>
<text x="1306.80" y="189.80" font-family="Liberation Serif" font-style="italic" font-weight="normal" font-size="36.054" textLength="23.946" lengthAdjust="spacingAndGlyphs" fill="#000">T</text>
<text x="1335.89" y="190.16" font-family="Liberation Serif" font-style="normal" font-weight="normal" font-size="39.596" textLength="9.639" lengthAdjust="spacingAndGlyphs" fill="#000">(</text>
<text x="1342.52" y="193.24" font-family="Liberation Sans" font-style="normal" font-weight="normal" font-size="36.386" textLength="14.260" lengthAdjust="spacingAndGlyphs" fill="#000">&#176;</text>
<text x="1357.22" y="191.60" font-family="Liberation Sans" font-style="normal" font-weight="normal" font-size="36.185" textLength="21.944" lengthAdjust="spacingAndGlyphs" fill="#000">C</text>
<text x="1378.79" y="190.38" font-family="Liberation Serif" font-style="normal" font-weight="normal" font-size="37.364" textLength="10.451" lengthAdjust="spacingAndGlyphs" fill="#000">)</text>
<text x="1280.85" y="634.30" font-family="Liberation Serif" font-style="normal" font-weight="normal" font-size="37.417" textLength="27.633" lengthAdjust="spacingAndGlyphs" fill="#000">&#916;</text>
<text x="1306.80" y="634.80" font-family="Liberation Serif" font-style="italic" font-weight="normal" font-size="36.054" textLength="23.946" lengthAdjust="spacingAndGlyphs" fill="#000">T</text>
<text x="1335.89" y="635.16" font-family="Liberation Serif" font-style="normal" font-weight="normal" font-size="39.596" textLength="9.639" lengthAdjust="spacingAndGlyphs" fill="#000">(</text>
<text x="1342.52" y="638.24" font-family="Liberation Sans" font-style="normal" font-weight="normal" font-size="36.386" textLength="14.260" lengthAdjust="spacingAndGlyphs" fill="#000">&#176;</text>
<text x="1357.22" y="636.60" font-family="Liberation Sans" font-style="normal" font-weight="normal" font-size="36.185" textLength="21.944" lengthAdjust="spacingAndGlyphs" fill="#000">C</text>
<text x="1378.79" y="635.38" font-family="Liberation Serif" font-style="normal" font-weight="normal" font-size="37.364" textLength="10.451" lengthAdjust="spacingAndGlyphs" fill="#000">)</text>
<text x="407.41" y="245.10" font-family="Liberation Serif" font-style="italic" font-weight="normal" font-size="38.407" textLength="55.204" lengthAdjust="spacingAndGlyphs" fill="#000">SW</text>
<text x="689.60" y="269.00" font-family="Liberation Serif" font-style="italic" font-weight="normal" font-size="37.500" textLength="55.280" lengthAdjust="spacingAndGlyphs" fill="#000">LW</text>
<text x="382.61" y="675.09" font-family="Liberation Serif" font-style="italic" font-weight="normal" font-size="56.220" textLength="81.204" lengthAdjust="spacingAndGlyphs" fill="#000">SW</text>
<text x="707.30" y="706.30" font-family="Liberation Serif" font-style="italic" font-weight="normal" font-size="37.500" textLength="55.187" lengthAdjust="spacingAndGlyphs" fill="#000">LW</text>
<text x="1563.11" y="185.00" font-family="Liberation Serif" font-style="italic" font-weight="normal" font-size="47.406" textLength="67.269" lengthAdjust="spacingAndGlyphs" fill="#000">SW</text>
<text x="1409.00" y="376.00" font-family="Liberation Serif" font-style="italic" font-weight="normal" font-size="37.673" textLength="55.187" lengthAdjust="spacingAndGlyphs" fill="#000">LW</text>
<text x="1586.00" y="650.40" font-family="Liberation Serif" font-style="italic" font-weight="normal" font-size="38.407" textLength="55.298" lengthAdjust="spacingAndGlyphs" fill="#000">SW</text>
<text x="1407.80" y="821.00" font-family="Liberation Serif" font-style="italic" font-weight="normal" font-size="37.500" textLength="55.470" lengthAdjust="spacingAndGlyphs" fill="#000">LW</text>
<text x="686.12" y="369.40" font-family="Liberation Serif" font-style="italic" font-weight="normal" font-size="46.103" textLength="14.131" lengthAdjust="spacingAndGlyphs" fill="#000">t</text>
<text x="704.27" y="370.12" font-family="Liberation Serif" font-style="normal" font-weight="normal" font-size="48.274" textLength="13.102" lengthAdjust="spacingAndGlyphs" fill="#000">(</text>
<text x="718.56" y="369.40" font-family="Liberation Serif" font-style="italic" font-weight="normal" font-size="42.778" textLength="24.063" lengthAdjust="spacingAndGlyphs" fill="#000">h</text>
<text x="740.69" y="370.12" font-family="Liberation Serif" font-style="normal" font-weight="normal" font-size="47.344" textLength="12.484" lengthAdjust="spacingAndGlyphs" fill="#000">)</text>
<text x="678.12" y="811.80" font-family="Liberation Serif" font-style="italic" font-weight="normal" font-size="46.103" textLength="14.131" lengthAdjust="spacingAndGlyphs" fill="#000">t</text>
<text x="696.27" y="812.12" font-family="Liberation Serif" font-style="normal" font-weight="normal" font-size="48.274" textLength="13.102" lengthAdjust="spacingAndGlyphs" fill="#000">(</text>
<text x="710.56" y="811.80" font-family="Liberation Serif" font-style="italic" font-weight="normal" font-size="41.585" textLength="24.063" lengthAdjust="spacingAndGlyphs" fill="#000">h</text>
<text x="732.69" y="812.12" font-family="Liberation Serif" font-style="normal" font-weight="normal" font-size="47.344" textLength="12.484" lengthAdjust="spacingAndGlyphs" fill="#000">)</text>
<text x="1954.90" y="358.40" font-family="Liberation Serif" font-style="italic" font-weight="normal" font-size="46.628" textLength="14.265" lengthAdjust="spacingAndGlyphs" fill="#000">t</text>
<text x="1973.02" y="358.10" font-family="Liberation Serif" font-style="normal" font-weight="normal" font-size="45.346" textLength="12.932" lengthAdjust="spacingAndGlyphs" fill="#000">(</text>
<text x="1987.04" y="358.40" font-family="Liberation Serif" font-style="italic" font-weight="normal" font-size="40.337" textLength="24.834" lengthAdjust="spacingAndGlyphs" fill="#000">h</text>
<text x="2009.76" y="358.87" font-family="Liberation Serif" font-style="normal" font-weight="normal" font-size="46.668" textLength="12.424" lengthAdjust="spacingAndGlyphs" fill="#000">)</text>
<text x="1953.16" y="798.80" font-family="Liberation Serif" font-style="italic" font-weight="normal" font-size="47.407" textLength="13.169" lengthAdjust="spacingAndGlyphs" fill="#000">t</text>
<text x="1971.14" y="799.72" font-family="Liberation Serif" font-style="normal" font-weight="normal" font-size="47.125" textLength="12.545" lengthAdjust="spacingAndGlyphs" fill="#000">(</text>
<text x="1985.14" y="798.80" font-family="Liberation Serif" font-style="italic" font-weight="normal" font-size="40.204" textLength="24.834" lengthAdjust="spacingAndGlyphs" fill="#000">h</text>
<text x="2007.92" y="799.72" font-family="Liberation Serif" font-style="normal" font-weight="normal" font-size="47.344" textLength="12.670" lengthAdjust="spacingAndGlyphs" fill="#000">)</text>
</svg>
</body></html>
